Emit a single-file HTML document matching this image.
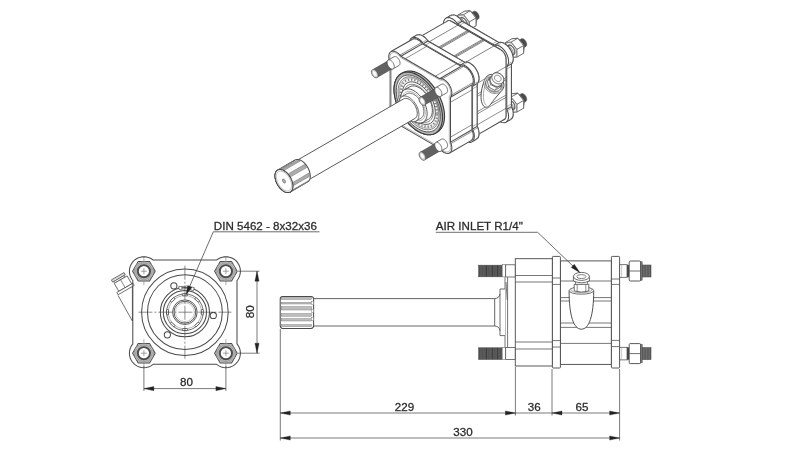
<!DOCTYPE html>
<html><head><meta charset="utf-8"><title>drawing</title>
<style>
html,body{margin:0;padding:0;background:#fff;}
body{width:800px;height:450px;overflow:hidden;font-family:"Liberation Sans",sans-serif;}
svg{display:block;}
text{font-family:"Liberation Sans",sans-serif;}
</style></head><body>
<svg width="800" height="450" viewBox="0 0 800 450">
<defs><filter id="soft" x="0" y="0" width="800" height="450" filterUnits="userSpaceOnUse"><feGaussianBlur stdDeviation="0.55"/></filter>
<filter id="soft2" x="0" y="0" width="800" height="450" filterUnits="userSpaceOnUse"><feGaussianBlur stdDeviation="0.45"/></filter></defs>
<rect x="0" y="0" width="800" height="450" fill="#ffffff"/>
<g filter="url(#soft)">
<path d="M152.42,364.93 L150.48,366.12 L148.38,366.99 L146.17,367.52 L143.9,367.7 L141.63,367.52 L139.42,366.99 L137.32,366.12 L135.38,364.93 L133.65,363.45 L132.17,361.72 L130.98,359.78 L130.11,357.68 L129.58,355.47 L129.4,353.2 L129.58,350.93 L130.11,348.72 L130.98,346.62 L132.17,344.68 L132.8,343.94 L132.8,280.46 L132.17,279.72 L130.98,277.78 L130.11,275.68 L129.58,273.47 L129.4,271.2 L129.58,268.93 L130.11,266.72 L130.98,264.62 L132.17,262.68 L133.65,260.95 L135.38,259.47 L137.32,258.28 L139.42,257.41 L141.63,256.88 L143.9,256.7 L146.17,256.88 L148.38,257.41 L150.48,258.28 L152.42,259.47 L153.16,260.1 L216.64,260.1 L217.38,259.47 L219.32,258.28 L221.42,257.41 L223.63,256.88 L225.9,256.7 L228.17,256.88 L230.38,257.41 L232.48,258.28 L234.42,259.47 L236.15,260.95 L237.63,262.68 L238.82,264.62 L239.69,266.72 L240.22,268.93 L240.4,271.2 L240.22,273.47 L239.69,275.68 L238.82,277.78 L237.63,279.72 L237,280.46 L237,343.94 L237.63,344.68 L238.82,346.62 L239.69,348.72 L240.22,350.93 L240.4,353.2 L240.22,355.47 L239.69,357.68 L238.82,359.78 L237.63,361.72 L236.15,363.45 L234.42,364.93 L232.48,366.12 L230.38,366.99 L228.17,367.52 L225.9,367.7 L223.63,367.52 L221.42,366.99 L219.32,366.12 L217.38,364.93 L216.64,364.3 L153.16,364.3 Z" fill="#fff" stroke="#4a4a4a" stroke-width="1.03" stroke-linejoin="round" />
<circle cx="184.9" cy="312.2" r="43.3" fill="none" stroke="#4a4a4a" stroke-width="1.03"/>
<circle cx="184.9" cy="312.2" r="37.4" fill="none" stroke="#4a4a4a" stroke-width="1.03"/>
<circle cx="184.9" cy="312.2" r="24.6" fill="none" stroke="#4a4a4a" stroke-width="1.03"/>
<circle cx="184.9" cy="312.2" r="21.6" fill="none" stroke="#4a4a4a" stroke-width="1.03"/>
<circle cx="184.9" cy="312.2" r="18.3" fill="none" stroke="#4a4a4a" stroke-width="0.8"/>
<circle cx="184.9" cy="312.2" r="16.6" fill="none" stroke="#7e7e7e" stroke-width="0.57"/>
<rect x="201.3" y="309.5" width="2.0" height="5.4" rx="0.9" fill="#fff" stroke="#3d3d3d" stroke-width="0.8" transform="rotate(0 202.3 312.2)"/>
<rect x="196.2" y="321.8" width="2.0" height="5.4" rx="0.9" fill="#fff" stroke="#3d3d3d" stroke-width="0.8" transform="rotate(45 197.2 324.5)"/>
<rect x="183.9" y="326.9" width="2.0" height="5.4" rx="0.9" fill="#fff" stroke="#3d3d3d" stroke-width="0.8" transform="rotate(90 184.9 329.6)"/>
<rect x="171.6" y="321.8" width="2.0" height="5.4" rx="0.9" fill="#fff" stroke="#3d3d3d" stroke-width="0.8" transform="rotate(135 172.6 324.5)"/>
<rect x="166.5" y="309.5" width="2.0" height="5.4" rx="0.9" fill="#fff" stroke="#3d3d3d" stroke-width="0.8" transform="rotate(180 167.5 312.2)"/>
<rect x="171.6" y="297.2" width="2.0" height="5.4" rx="0.9" fill="#fff" stroke="#3d3d3d" stroke-width="0.8" transform="rotate(225 172.6 299.9)"/>
<rect x="183.9" y="292.1" width="2.0" height="5.4" rx="0.9" fill="#fff" stroke="#3d3d3d" stroke-width="0.8" transform="rotate(270 184.9 294.8)"/>
<rect x="196.2" y="297.2" width="2.0" height="5.4" rx="0.9" fill="#fff" stroke="#3d3d3d" stroke-width="0.8" transform="rotate(315 197.2 299.9)"/>
<circle cx="184.9" cy="312.2" r="12.3" fill="none" stroke="#4a4a4a" stroke-width="0.92"/>
<circle cx="184.9" cy="312.2" r="10.9" fill="none" stroke="#4a4a4a" stroke-width="0.92"/>
<circle cx="184.9" cy="312.2" r="9.4" fill="none" stroke="#8e8e8e" stroke-width="0.46"/>
<circle cx="173.86" cy="285.82" r="3.1" fill="#fff" stroke="#4a4a4a" stroke-width="1.03"/>
<circle cx="213.31" cy="315.49" r="3.1" fill="#fff" stroke="#4a4a4a" stroke-width="1.03"/>
<circle cx="167.37" cy="334.8" r="3.1" fill="#fff" stroke="#4a4a4a" stroke-width="1.03"/>
<path d="M177.9,287 A26.5 26.5 0 0 1 194.9,288" fill="none" stroke="#4a4a4a" stroke-width="0.69" stroke-linejoin="round" />
<path d="M178.9,289.4 A23.5 23.5 0 0 1 193.9,290.4" fill="none" stroke="#4a4a4a" stroke-width="0.69" stroke-linejoin="round" />
<circle cx="180.4" cy="288" r="1.6" fill="#fff" stroke="#4a4a4a" stroke-width="0.57"/>
<circle cx="192.4" cy="288.8" r="1.6" fill="#fff" stroke="#4a4a4a" stroke-width="0.57"/>
<line x1="138.4" y1="312.2" x2="231.4" y2="312.2" stroke="#4a4a4a" stroke-width="0.63" stroke-dasharray="14 2 2 2"/>
<line x1="184.9" y1="265.7" x2="184.9" y2="358.7" stroke="#4a4a4a" stroke-width="0.63" stroke-dasharray="14 2 2 2"/>
<path d="M155.2,271.2 L149.55,280.99 L138.25,280.99 L132.6,271.2 L138.25,261.41 L149.55,261.41 Z" fill="#e4e4e4" stroke="#4a4a4a" stroke-width="1.03" stroke-linejoin="round" />
<circle cx="143.9" cy="271.2" r="9.7" fill="#cfcfcf" stroke="#6e6e6e" stroke-width="0.57"/>
<circle cx="143.9" cy="271.2" r="8.4" fill="#b9b9b9" stroke="#7e7e7e" stroke-width="0.57"/>
<circle cx="143.9" cy="271.2" r="6.1" fill="#fff" stroke="#4d4d4d" stroke-width="1.95"/>
<line x1="140.9" y1="271.2" x2="146.9" y2="271.2" stroke="#6e6e6e" stroke-width="0.63" />
<line x1="143.9" y1="268.2" x2="143.9" y2="274.2" stroke="#6e6e6e" stroke-width="0.63" />
<line x1="143.9" y1="257.2" x2="143.9" y2="262.2" stroke="#6e6e6e" stroke-width="0.57" />
<line x1="143.9" y1="280.2" x2="143.9" y2="285.2" stroke="#6e6e6e" stroke-width="0.57" />
<path d="M155.2,353.2 L149.55,362.99 L138.25,362.99 L132.6,353.2 L138.25,343.41 L149.55,343.41 Z" fill="#e4e4e4" stroke="#4a4a4a" stroke-width="1.03" stroke-linejoin="round" />
<circle cx="143.9" cy="353.2" r="9.7" fill="#cfcfcf" stroke="#6e6e6e" stroke-width="0.57"/>
<circle cx="143.9" cy="353.2" r="8.4" fill="#b9b9b9" stroke="#7e7e7e" stroke-width="0.57"/>
<circle cx="143.9" cy="353.2" r="6.1" fill="#fff" stroke="#4d4d4d" stroke-width="1.95"/>
<line x1="140.9" y1="353.2" x2="146.9" y2="353.2" stroke="#6e6e6e" stroke-width="0.63" />
<line x1="143.9" y1="350.2" x2="143.9" y2="356.2" stroke="#6e6e6e" stroke-width="0.63" />
<line x1="143.9" y1="339.2" x2="143.9" y2="344.2" stroke="#6e6e6e" stroke-width="0.57" />
<line x1="143.9" y1="362.2" x2="143.9" y2="367.2" stroke="#6e6e6e" stroke-width="0.57" />
<path d="M237.2,271.2 L231.55,280.99 L220.25,280.99 L214.6,271.2 L220.25,261.41 L231.55,261.41 Z" fill="#e4e4e4" stroke="#4a4a4a" stroke-width="1.03" stroke-linejoin="round" />
<circle cx="225.9" cy="271.2" r="9.7" fill="#cfcfcf" stroke="#6e6e6e" stroke-width="0.57"/>
<circle cx="225.9" cy="271.2" r="8.4" fill="#b9b9b9" stroke="#7e7e7e" stroke-width="0.57"/>
<circle cx="225.9" cy="271.2" r="6.1" fill="#fff" stroke="#4d4d4d" stroke-width="1.95"/>
<line x1="222.9" y1="271.2" x2="228.9" y2="271.2" stroke="#6e6e6e" stroke-width="0.63" />
<line x1="225.9" y1="268.2" x2="225.9" y2="274.2" stroke="#6e6e6e" stroke-width="0.63" />
<line x1="225.9" y1="257.2" x2="225.9" y2="262.2" stroke="#6e6e6e" stroke-width="0.57" />
<line x1="225.9" y1="280.2" x2="225.9" y2="285.2" stroke="#6e6e6e" stroke-width="0.57" />
<path d="M237.2,353.2 L231.55,362.99 L220.25,362.99 L214.6,353.2 L220.25,343.41 L231.55,343.41 Z" fill="#e4e4e4" stroke="#4a4a4a" stroke-width="1.03" stroke-linejoin="round" />
<circle cx="225.9" cy="353.2" r="9.7" fill="#cfcfcf" stroke="#6e6e6e" stroke-width="0.57"/>
<circle cx="225.9" cy="353.2" r="8.4" fill="#b9b9b9" stroke="#7e7e7e" stroke-width="0.57"/>
<circle cx="225.9" cy="353.2" r="6.1" fill="#fff" stroke="#4d4d4d" stroke-width="1.95"/>
<line x1="222.9" y1="353.2" x2="228.9" y2="353.2" stroke="#6e6e6e" stroke-width="0.63" />
<line x1="225.9" y1="350.2" x2="225.9" y2="356.2" stroke="#6e6e6e" stroke-width="0.63" />
<line x1="225.9" y1="339.2" x2="225.9" y2="344.2" stroke="#6e6e6e" stroke-width="0.57" />
<line x1="225.9" y1="362.2" x2="225.9" y2="367.2" stroke="#6e6e6e" stroke-width="0.57" />
<path d="M111.4,279.9 L124.04,272.6 L125.34,274.85 L112.7,282.15 Z" fill="#ddd" stroke="#4a4a4a" stroke-width="0.8" stroke-linejoin="round" />
<path d="M114.09,281.35 L123.96,275.65 L124.86,277.21 L114.99,282.91 Z" fill="#fff" stroke="#4a4a4a" stroke-width="0.69" stroke-linejoin="round" />
<path d="M114.21,283.36 L127.11,275.91 L131.71,283.88 L118.81,291.33 Z" fill="#fff" stroke="#4a4a4a" stroke-width="0.8" stroke-linejoin="round" />
<line x1="120.53" y1="279.71" x2="125.13" y2="287.68" stroke="#4a4a4a" stroke-width="0.69" />
<path d="M116.81,292.48 L132.92,283.18 L134.22,285.43 L118.11,294.73 Z" fill="#fff" stroke="#4a4a4a" stroke-width="0.8" stroke-linejoin="round" />
<path d="M118.07,295.45 L132.4,321 M132.4,283 L132.4,321" fill="none" stroke="#4a4a4a" stroke-width="0.8" stroke-linejoin="round" />
<line x1="238" y1="271.2" x2="259.5" y2="271.2" stroke="#3d3d3d" stroke-width="0.69" />
<line x1="238" y1="353.2" x2="259.5" y2="353.2" stroke="#3d3d3d" stroke-width="0.69" />
<line x1="257" y1="271.2" x2="257" y2="353.2" stroke="#3d3d3d" stroke-width="0.69" />
<line x1="143.9" y1="366" x2="143.9" y2="391" stroke="#3d3d3d" stroke-width="0.69" />
<line x1="225.9" y1="366" x2="225.9" y2="391" stroke="#3d3d3d" stroke-width="0.69" />
<line x1="143.9" y1="388.6" x2="225.9" y2="388.6" stroke="#3d3d3d" stroke-width="0.69" />
<path d="M319.5,231.8 L213.3,231.8 L186.6,293.5" fill="none" stroke="#3d3d3d" stroke-width="0.75" stroke-linejoin="round" />
<line x1="280.3" y1="329" x2="280.3" y2="440.5" stroke="#3d3d3d" stroke-width="0.69" />
<line x1="515.4" y1="367" x2="515.4" y2="415.5" stroke="#3d3d3d" stroke-width="0.69" />
<line x1="552" y1="369" x2="552" y2="415.5" stroke="#3d3d3d" stroke-width="0.69" />
<line x1="619.6" y1="369" x2="619.6" y2="440.5" stroke="#3d3d3d" stroke-width="0.69" />
<line x1="280.3" y1="413" x2="619.6" y2="413" stroke="#3d3d3d" stroke-width="0.69" />
<line x1="280.3" y1="438" x2="619.6" y2="438" stroke="#3d3d3d" stroke-width="0.69" />
<rect x="478.7" y="265.2" width="23.5" height="11.6" rx="0" fill="#4a4a4a" stroke="#4a4a4a" stroke-width="0.57"/>
<line x1="480.2" y1="265.4" x2="480.2" y2="276.6" stroke="#7e7e7e" stroke-width="0.4" />
<line x1="481.7" y1="265.4" x2="481.7" y2="276.6" stroke="#7e7e7e" stroke-width="0.4" />
<line x1="483.2" y1="265.4" x2="483.2" y2="276.6" stroke="#7e7e7e" stroke-width="0.4" />
<line x1="484.7" y1="265.4" x2="484.7" y2="276.6" stroke="#7e7e7e" stroke-width="0.4" />
<line x1="486.2" y1="265.4" x2="486.2" y2="276.6" stroke="#7e7e7e" stroke-width="0.4" />
<line x1="487.7" y1="265.4" x2="487.7" y2="276.6" stroke="#7e7e7e" stroke-width="0.4" />
<line x1="489.2" y1="265.4" x2="489.2" y2="276.6" stroke="#7e7e7e" stroke-width="0.4" />
<line x1="490.7" y1="265.4" x2="490.7" y2="276.6" stroke="#7e7e7e" stroke-width="0.4" />
<line x1="492.2" y1="265.4" x2="492.2" y2="276.6" stroke="#7e7e7e" stroke-width="0.4" />
<line x1="493.7" y1="265.4" x2="493.7" y2="276.6" stroke="#7e7e7e" stroke-width="0.4" />
<line x1="495.2" y1="265.4" x2="495.2" y2="276.6" stroke="#7e7e7e" stroke-width="0.4" />
<line x1="496.7" y1="265.4" x2="496.7" y2="276.6" stroke="#7e7e7e" stroke-width="0.4" />
<line x1="498.2" y1="265.4" x2="498.2" y2="276.6" stroke="#7e7e7e" stroke-width="0.4" />
<line x1="499.7" y1="265.4" x2="499.7" y2="276.6" stroke="#7e7e7e" stroke-width="0.4" />
<line x1="501.2" y1="265.4" x2="501.2" y2="276.6" stroke="#7e7e7e" stroke-width="0.4" />
<line x1="486.5" y1="265.4" x2="486.5" y2="276.6" stroke="#353535" stroke-width="0.69" />
<line x1="492.5" y1="265.4" x2="492.5" y2="276.6" stroke="#353535" stroke-width="0.69" />
<line x1="497.6" y1="265.4" x2="497.6" y2="276.6" stroke="#353535" stroke-width="0.69" />
<rect x="502.2" y="264.7" width="3.5" height="12.2" rx="0" fill="#fff" stroke="#6e6e6e" stroke-width="0.57"/>
<rect x="505.7" y="264.8" width="9.6" height="12.2" rx="0" fill="#fff" stroke="#4a4a4a" stroke-width="0.75"/>
<rect x="619.6" y="264.7" width="7.6" height="12.6" rx="0" fill="#fff" stroke="#4a4a4a" stroke-width="0.75"/>
<line x1="621.6" y1="264.7" x2="621.6" y2="277.3" stroke="#8e8e8e" stroke-width="0.46" />
<rect x="627" y="265.1" width="2.2" height="11.8" rx="0" fill="#444" stroke="#4a4a4a" stroke-width="0.46"/>
<rect x="629.2" y="261" width="11.4" height="20" rx="1" fill="#fff" stroke="#4a4a4a" stroke-width="0.92"/>
<line x1="629.2" y1="271" x2="640.6" y2="271" stroke="#4a4a4a" stroke-width="0.8" />
<rect x="640.6" y="261.8" width="1.6" height="18.4" rx="0" fill="#777" stroke="#4a4a4a" stroke-width="0.46"/>
<rect x="642.2" y="265" width="8.8" height="12" rx="0" fill="#555" stroke="#4a4a4a" stroke-width="0.57"/>
<line x1="643.5" y1="265.2" x2="643.5" y2="276.8" stroke="#909090" stroke-width="0.4" />
<line x1="645" y1="265.2" x2="645" y2="276.8" stroke="#909090" stroke-width="0.4" />
<line x1="646.5" y1="265.2" x2="646.5" y2="276.8" stroke="#909090" stroke-width="0.4" />
<line x1="648" y1="265.2" x2="648" y2="276.8" stroke="#909090" stroke-width="0.4" />
<line x1="649.5" y1="265.2" x2="649.5" y2="276.8" stroke="#909090" stroke-width="0.4" />
<rect x="478.7" y="347.8" width="23.5" height="11.6" rx="0" fill="#4a4a4a" stroke="#4a4a4a" stroke-width="0.57"/>
<line x1="480.2" y1="348" x2="480.2" y2="359.2" stroke="#7e7e7e" stroke-width="0.4" />
<line x1="481.7" y1="348" x2="481.7" y2="359.2" stroke="#7e7e7e" stroke-width="0.4" />
<line x1="483.2" y1="348" x2="483.2" y2="359.2" stroke="#7e7e7e" stroke-width="0.4" />
<line x1="484.7" y1="348" x2="484.7" y2="359.2" stroke="#7e7e7e" stroke-width="0.4" />
<line x1="486.2" y1="348" x2="486.2" y2="359.2" stroke="#7e7e7e" stroke-width="0.4" />
<line x1="487.7" y1="348" x2="487.7" y2="359.2" stroke="#7e7e7e" stroke-width="0.4" />
<line x1="489.2" y1="348" x2="489.2" y2="359.2" stroke="#7e7e7e" stroke-width="0.4" />
<line x1="490.7" y1="348" x2="490.7" y2="359.2" stroke="#7e7e7e" stroke-width="0.4" />
<line x1="492.2" y1="348" x2="492.2" y2="359.2" stroke="#7e7e7e" stroke-width="0.4" />
<line x1="493.7" y1="348" x2="493.7" y2="359.2" stroke="#7e7e7e" stroke-width="0.4" />
<line x1="495.2" y1="348" x2="495.2" y2="359.2" stroke="#7e7e7e" stroke-width="0.4" />
<line x1="496.7" y1="348" x2="496.7" y2="359.2" stroke="#7e7e7e" stroke-width="0.4" />
<line x1="498.2" y1="348" x2="498.2" y2="359.2" stroke="#7e7e7e" stroke-width="0.4" />
<line x1="499.7" y1="348" x2="499.7" y2="359.2" stroke="#7e7e7e" stroke-width="0.4" />
<line x1="501.2" y1="348" x2="501.2" y2="359.2" stroke="#7e7e7e" stroke-width="0.4" />
<line x1="486.5" y1="348" x2="486.5" y2="359.2" stroke="#353535" stroke-width="0.69" />
<line x1="492.5" y1="348" x2="492.5" y2="359.2" stroke="#353535" stroke-width="0.69" />
<line x1="497.6" y1="348" x2="497.6" y2="359.2" stroke="#353535" stroke-width="0.69" />
<rect x="502.2" y="347.3" width="3.5" height="12.2" rx="0" fill="#fff" stroke="#6e6e6e" stroke-width="0.57"/>
<rect x="505.7" y="347.4" width="9.6" height="12.2" rx="0" fill="#fff" stroke="#4a4a4a" stroke-width="0.75"/>
<rect x="619.6" y="347.3" width="7.6" height="12.6" rx="0" fill="#fff" stroke="#4a4a4a" stroke-width="0.75"/>
<line x1="621.6" y1="347.3" x2="621.6" y2="359.9" stroke="#8e8e8e" stroke-width="0.46" />
<rect x="627" y="347.7" width="2.2" height="11.8" rx="0" fill="#444" stroke="#4a4a4a" stroke-width="0.46"/>
<rect x="629.2" y="343.6" width="11.4" height="20" rx="1" fill="#fff" stroke="#4a4a4a" stroke-width="0.92"/>
<line x1="629.2" y1="353.6" x2="640.6" y2="353.6" stroke="#4a4a4a" stroke-width="0.8" />
<rect x="640.6" y="344.4" width="1.6" height="18.4" rx="0" fill="#777" stroke="#4a4a4a" stroke-width="0.46"/>
<rect x="642.2" y="347.6" width="8.8" height="12" rx="0" fill="#555" stroke="#4a4a4a" stroke-width="0.57"/>
<line x1="643.5" y1="347.8" x2="643.5" y2="359.4" stroke="#909090" stroke-width="0.4" />
<line x1="645" y1="347.8" x2="645" y2="359.4" stroke="#909090" stroke-width="0.4" />
<line x1="646.5" y1="347.8" x2="646.5" y2="359.4" stroke="#909090" stroke-width="0.4" />
<line x1="648" y1="347.8" x2="648" y2="359.4" stroke="#909090" stroke-width="0.4" />
<line x1="649.5" y1="347.8" x2="649.5" y2="359.4" stroke="#909090" stroke-width="0.4" />
<rect x="515.3" y="258.7" width="37.1" height="107.3" rx="0" fill="#fff" stroke="#4a4a4a" stroke-width="0.92"/>
<line x1="515.3" y1="275.5" x2="552.4" y2="275.5" stroke="#4a4a4a" stroke-width="0.75" />
<line x1="515.3" y1="282" x2="552.4" y2="282" stroke="#4a4a4a" stroke-width="0.75" />
<line x1="515.3" y1="342" x2="552.4" y2="342" stroke="#4a4a4a" stroke-width="0.75" />
<line x1="515.3" y1="349" x2="552.4" y2="349" stroke="#4a4a4a" stroke-width="0.75" />
<rect x="560.4" y="260.9" width="51" height="103.5" rx="0" fill="#fff" stroke="#4a4a4a" stroke-width="0.92"/>
<line x1="560.4" y1="281" x2="611.4" y2="281" stroke="#4a4a4a" stroke-width="0.75" />
<line x1="560.4" y1="297.6" x2="611.4" y2="297.6" stroke="#4a4a4a" stroke-width="0.75" />
<line x1="560.4" y1="301" x2="611.4" y2="301" stroke="#4a4a4a" stroke-width="0.75" />
<line x1="560.4" y1="323" x2="611.4" y2="323" stroke="#4a4a4a" stroke-width="0.75" />
<line x1="560.4" y1="327.4" x2="611.4" y2="327.4" stroke="#4a4a4a" stroke-width="0.75" />
<line x1="560.4" y1="343.4" x2="611.4" y2="343.4" stroke="#4a4a4a" stroke-width="0.75" />
<rect x="552.4" y="256.4" width="8" height="111.6" rx="0.8" fill="#fff" stroke="#4a4a4a" stroke-width="0.92"/>
<line x1="552.4" y1="278" x2="560.4" y2="278" stroke="#4a4a4a" stroke-width="0.75" />
<line x1="552.4" y1="284.4" x2="560.4" y2="284.4" stroke="#4a4a4a" stroke-width="0.75" />
<line x1="552.4" y1="340.6" x2="560.4" y2="340.6" stroke="#4a4a4a" stroke-width="0.75" />
<line x1="552.4" y1="347" x2="560.4" y2="347" stroke="#4a4a4a" stroke-width="0.75" />
<rect x="611.4" y="256.4" width="8.2" height="111.6" rx="0.8" fill="#fff" stroke="#4a4a4a" stroke-width="0.92"/>
<line x1="611.4" y1="279" x2="619.6" y2="279" stroke="#4a4a4a" stroke-width="0.75" />
<line x1="611.4" y1="284.4" x2="619.6" y2="284.4" stroke="#4a4a4a" stroke-width="0.75" />
<line x1="611.4" y1="340.4" x2="619.6" y2="340.4" stroke="#4a4a4a" stroke-width="0.75" />
<line x1="611.4" y1="346.6" x2="619.6" y2="346.6" stroke="#4a4a4a" stroke-width="0.75" />
<path d="M505,277.3 L505,347.3 M507.6,277.3 L507.6,347.3 M506,282 L507.2,300" fill="none" stroke="#4a4a4a" stroke-width="0.75" stroke-linejoin="round" />
<path d="M505,289 L500,289 L500,335.6 L505,335.6" fill="#fff" stroke="#4a4a4a" stroke-width="0.8" stroke-linejoin="round" />
<path d="M313.6,298.6 L494.7,298.6 Q499.4,298.2 500,294 M313.6,326 L494.7,326 Q499.4,326.4 500,330.6 M494.7,298.6 L494.7,326" fill="none" stroke="#4a4a4a" stroke-width="0.86" stroke-linejoin="round" />
<rect x="280.2" y="296.4" width="33.4" height="32" rx="2.6" fill="#fff" stroke="#4a4a4a" stroke-width="1.03"/>
<rect x="281.2" y="297.6" width="30.4" height="1.8" rx="0" fill="#bdbdbd" stroke="#6e6e6e" stroke-width="0.4"/>
<rect x="281.2" y="302.4" width="30.4" height="1.6" rx="0" fill="#bdbdbd" stroke="#6e6e6e" stroke-width="0.4"/>
<rect x="281.2" y="306.6" width="30.4" height="3.4" rx="0" fill="#bdbdbd" stroke="#6e6e6e" stroke-width="0.4"/>
<rect x="281.2" y="313.6" width="30.4" height="2.6" rx="0" fill="#bdbdbd" stroke="#6e6e6e" stroke-width="0.4"/>
<rect x="281.2" y="318.6" width="30.4" height="2.4" rx="0" fill="#bdbdbd" stroke="#6e6e6e" stroke-width="0.4"/>
<rect x="281.2" y="324.6" width="30.4" height="2" rx="0" fill="#bdbdbd" stroke="#6e6e6e" stroke-width="0.4"/>
<rect x="311.2" y="301.6" width="2.4" height="3" rx="0" fill="#fff" stroke="#6e6e6e" stroke-width="0.46"/>
<rect x="311.2" y="309.4" width="2.4" height="3" rx="0" fill="#fff" stroke="#6e6e6e" stroke-width="0.46"/>
<rect x="311.2" y="317.4" width="2.4" height="3" rx="0" fill="#fff" stroke="#6e6e6e" stroke-width="0.46"/>
<path d="M569.1,291 C569.1,316 573.8,329.2 581.4,329.2 C589,329.2 593.7,316 593.7,291 Z" fill="#fff" stroke="#4a4a4a" stroke-width="0.98" stroke-linejoin="round" />
<ellipse cx="581.4" cy="290.6" rx="12.3" ry="3.6" fill="#fff" stroke="#4a4a4a" stroke-width="0.8"/>
<ellipse cx="581.4" cy="289.8" rx="10.6" ry="2.9" fill="#fff" stroke="#6e6e6e" stroke-width="0.57"/>
<path d="M574.2,284.2 L588.8,284.2 L588.8,291.0 Q581.4,293.2 574.2,291.0 Z" fill="#fff" stroke="#4a4a4a" stroke-width="0.8" stroke-linejoin="round" />
<line x1="577.2" y1="284.4" x2="577.2" y2="291.8" stroke="#4a4a4a" stroke-width="0.63" />
<line x1="585.8" y1="284.4" x2="585.8" y2="291.8" stroke="#4a4a4a" stroke-width="0.63" />
<rect x="575.4" y="281.6" width="12" height="2.6" rx="0" fill="#fff" stroke="#4a4a4a" stroke-width="0.63"/>
<path d="M573.4,276.4 L573.4,281 Q581.4,284.6 589.4,281 L589.4,276.4" fill="#fff" stroke="#4a4a4a" stroke-width="0.8" stroke-linejoin="round" />
<ellipse cx="581.4" cy="276.4" rx="8" ry="4" fill="#fff" stroke="#4a4a4a" stroke-width="0.8"/>
<ellipse cx="581.4" cy="276.6" rx="4.6" ry="2" fill="#fff" stroke="#4a4a4a" stroke-width="0.69"/>
<path d="M435.8,232.3 L537.6,232.3 L578.6,271.4" fill="none" stroke="#3d3d3d" stroke-width="0.75" stroke-linejoin="round" />
<path d="M467.98,14.71 L467.71,14.91 L467.49,15.17 L467.31,15.49 L467.17,15.87 L467.09,16.28 L467.07,16.74 L467.09,17.23 L467.17,17.74 L467.31,18.26 L467.49,18.79 L467.71,19.32 L467.98,19.83 L468.29,20.32 L468.63,20.78 L469,21.2 L469.39,21.58 L469.79,21.9 L470.2,22.17 L470.61,22.37 L471.01,22.51 L471.4,22.58 L471.77,22.59 L472.11,22.52 L472.42,22.39 L478.22,19.04 L478.49,18.84 L478.72,18.58 L478.9,18.26 L479.03,17.88 L479.11,17.47 L479.14,17.01 L479.11,16.52 L479.03,16.01 L478.9,15.49 L478.72,14.96 L478.49,14.43 L478.22,13.92 L477.91,13.43 L477.57,12.97 L477.2,12.55 L476.81,12.17 L476.41,11.85 L476,11.58 L475.59,11.38 L475.19,11.24 L474.8,11.17 L474.44,11.16 L474.1,11.23 L473.79,11.36 Z" fill="#4c4c4c" stroke="#4a4a4a" stroke-width="0.57" stroke-linejoin="round" />
<path d="M473.33,20.36 L473.31,19.87 L473.23,19.36 L473.1,18.84 L472.91,18.31 L472.69,17.78 L472.42,17.27 L472.11,16.78 L471.77,16.32 L471.4,15.9 L471.01,15.52 L470.61,15.2 L470.2,14.93 L469.79,14.73 L469.39,14.59 L469,14.52 L468.63,14.51 L468.29,14.58 L467.98,14.71 L467.71,14.91 L467.49,15.17 L467.31,15.49 L467.17,15.87 L467.09,16.28 L467.07,16.74 L467.09,17.23 L467.17,17.74 L467.31,18.26 L467.49,18.79 L467.71,19.32 L467.98,19.83 L468.29,20.32 L468.63,20.78 L469,21.2 L469.39,21.58 L469.79,21.9 L470.2,22.17 L470.61,22.37 L471.01,22.51 L471.4,22.58 L471.77,22.59 L472.11,22.52 L472.42,22.39 L472.69,22.19 L472.91,21.93 L473.1,21.61 L473.23,21.23 L473.31,20.82 Z" fill="#4c4c4c" stroke="#4a4a4a" stroke-width="0.57" stroke-linejoin="round" />
<path d="M465.93,12.49 L465.48,12.82 L465.1,13.26 L464.8,13.79 L464.58,14.41 L464.44,15.11 L464.4,15.87 L464.44,16.68 L464.58,17.53 L464.8,18.41 L465.1,19.29 L465.48,20.16 L465.93,21.02 L466.44,21.83 L467.01,22.6 L467.62,23.3 L468.27,23.93 L468.94,24.47 L469.62,24.91 L470.3,25.26 L470.97,25.49 L471.62,25.61 L472.23,25.61 L472.8,25.5 L473.31,25.28 L475.05,24.28 L475.5,23.94 L475.88,23.51 L476.19,22.97 L476.41,22.35 L476.54,21.66 L476.58,20.89 L476.54,20.08 L476.41,19.23 L476.19,18.36 L475.88,17.48 L475.5,16.6 L475.05,15.75 L474.54,14.93 L473.97,14.17 L473.36,13.46 L472.71,12.84 L472.04,12.3 L471.36,11.85 L470.68,11.51 L470.01,11.28 L469.36,11.16 L468.75,11.15 L468.18,11.26 L467.67,11.48 Z" fill="#777" stroke="#4a4a4a" stroke-width="0.57" stroke-linejoin="round" />
<path d="M474.84,21.9 L474.8,21.09 L474.66,20.24 L474.44,19.36 L474.14,18.48 L473.76,17.61 L473.31,16.75 L472.8,15.94 L472.23,15.17 L471.62,14.47 L470.97,13.84 L470.3,13.3 L469.62,12.85 L468.94,12.51 L468.27,12.28 L467.62,12.16 L467.01,12.16 L466.44,12.27 L465.93,12.49 L465.48,12.82 L465.1,13.26 L464.8,13.79 L464.58,14.41 L464.44,15.11 L464.4,15.87 L464.44,16.68 L464.58,17.53 L464.8,18.41 L465.1,19.29 L465.48,20.16 L465.93,21.02 L466.44,21.83 L467.01,22.6 L467.62,23.3 L468.27,23.93 L468.94,24.47 L469.62,24.91 L470.3,25.26 L470.97,25.49 L471.62,25.61 L472.23,25.61 L472.8,25.5 L473.31,25.28 L473.76,24.95 L474.14,24.51 L474.44,23.98 L474.66,23.36 L474.8,22.66 Z" fill="#777" stroke="#4a4a4a" stroke-width="0.57" stroke-linejoin="round" />
<path d="M476.03,18.03 L470.2,10.78 L464.37,11.3 L464.37,19.07 L470.2,26.32 L476.03,25.8 Z" fill="#fff" stroke="#4a4a4a" stroke-width="0.8" stroke-linejoin="round" />
<path d="M469.36,21.88 L463.53,14.63 L470.2,10.78 L476.03,18.03 Z" fill="#fff" stroke="#ffffff" stroke-width="0.57" stroke-linejoin="round" />
<path d="M463.53,14.63 L457.7,15.15 L464.37,11.3 L470.2,10.78 Z" fill="#fff" stroke="#ffffff" stroke-width="0.57" stroke-linejoin="round" />
<path d="M469.36,29.65 L469.36,21.88 L476.03,18.03 L476.03,25.8 Z" fill="#fff" stroke="#ffffff" stroke-width="0.57" stroke-linejoin="round" />
<line x1="476.03" y1="18.03" x2="470.2" y2="10.78" stroke="#4a4a4a" stroke-width="0.8" />
<line x1="470.2" y1="10.78" x2="464.37" y2="11.3" stroke="#4a4a4a" stroke-width="0.8" />
<line x1="476.03" y1="25.8" x2="476.03" y2="18.03" stroke="#4a4a4a" stroke-width="0.8" />
<line x1="469.36" y1="21.88" x2="476.03" y2="18.03" stroke="#4a4a4a" stroke-width="0.8" />
<line x1="463.53" y1="14.63" x2="470.2" y2="10.78" stroke="#4a4a4a" stroke-width="0.8" />
<line x1="457.7" y1="15.15" x2="464.37" y2="11.3" stroke="#4a4a4a" stroke-width="0.8" />
<line x1="469.36" y1="29.65" x2="476.03" y2="25.8" stroke="#4a4a4a" stroke-width="0.8" />
<path d="M469.36,21.88 L463.53,14.63 L457.7,15.15 L457.7,22.92 L463.53,30.17 L469.36,29.65 Z" fill="#fff" stroke="#4a4a4a" stroke-width="0.8" stroke-linejoin="round" />
<path d="M469.1,25.62 L469.05,24.75 L468.91,23.84 L468.67,22.91 L468.35,21.97 L467.95,21.04 L467.47,20.13 L466.92,19.26 L466.31,18.44 L465.66,17.69 L464.97,17.02 L464.25,16.45 L463.53,15.97 L462.8,15.61 L462.09,15.36 L461.4,15.23 L460.74,15.22 L460.14,15.34 L459.59,15.58 L459.11,15.94 L458.7,16.4 L458.38,16.97 L458.15,17.63 L458.01,18.37 L457.96,19.19 L458.01,20.05 L458.15,20.96 L458.38,21.89 L458.7,22.83 L459.11,23.77 L459.59,24.68 L460.14,25.55 L460.74,26.36 L461.4,27.11 L462.09,27.78 L462.8,28.36 L463.53,28.83 L464.25,29.2 L464.97,29.45 L465.66,29.58 L466.31,29.58 L466.92,29.46 L467.47,29.22 L467.95,28.87 L468.35,28.4 L468.67,27.84 L468.91,27.17 L469.05,26.43 Z" fill="none" stroke="#6e6e6e" stroke-width="0.52" stroke-linejoin="round" />
<path d="M467.59,24.75 L467.55,24.12 L467.45,23.45 L467.28,22.77 L467.05,22.09 L466.75,21.41 L466.4,20.74 L466,20.11 L465.56,19.51 L465.08,18.97 L464.58,18.48 L464.06,18.06 L463.53,17.71 L463,17.45 L462.48,17.27 L461.97,17.17 L461.5,17.17 L461.06,17.25 L460.66,17.43 L460.31,17.69 L460.01,18.03 L459.78,18.44 L459.6,18.92 L459.5,19.47 L459.47,20.06 L459.5,20.69 L459.6,21.35 L459.78,22.03 L460.01,22.72 L460.31,23.4 L460.66,24.06 L461.06,24.7 L461.5,25.29 L461.97,25.84 L462.48,26.33 L463,26.75 L463.53,27.09 L464.06,27.36 L464.58,27.54 L465.08,27.63 L465.56,27.64 L466,27.55 L466.4,27.38 L466.75,27.12 L467.05,26.78 L467.28,26.36 L467.45,25.88 L467.55,25.34 Z" fill="#666" stroke="#4d4d4d" stroke-width="0.57" stroke-linejoin="round" />
<path d="M454.48,22.13 L454.19,22.35 L453.94,22.63 L453.75,22.97 L453.6,23.37 L453.52,23.82 L453.49,24.31 L453.52,24.84 L453.6,25.38 L453.75,25.95 L453.94,26.52 L454.19,27.08 L454.48,27.63 L454.81,28.16 L455.17,28.65 L455.57,29.1 L455.98,29.51 L456.42,29.85 L456.85,30.14 L457.29,30.36 L457.73,30.51 L458.14,30.59 L458.54,30.59 L458.9,30.52 L459.23,30.38 L465.91,26.52 L466.2,26.31 L466.44,26.03 L466.64,25.68 L466.78,25.29 L466.86,24.84 L466.89,24.35 L466.86,23.82 L466.78,23.27 L466.64,22.71 L466.44,22.14 L466.2,21.58 L465.91,21.03 L465.58,20.5 L465.21,20.01 L464.82,19.56 L464.4,19.15 L463.97,18.8 L463.53,18.52 L463.09,18.3 L462.66,18.15 L462.24,18.07 L461.84,18.07 L461.48,18.14 L461.15,18.28 Z" fill="#fff" stroke="#4a4a4a" stroke-width="0.69" stroke-linejoin="round" />
<path d="M460.22,28.2 L460.19,27.67 L460.11,27.13 L459.96,26.56 L459.77,25.99 L459.52,25.43 L459.23,24.88 L458.9,24.35 L458.54,23.86 L458.14,23.41 L457.73,23 L457.29,22.66 L456.85,22.37 L456.42,22.15 L455.98,22 L455.57,21.92 L455.17,21.92 L454.81,21.99 L454.48,22.13 L454.19,22.35 L453.94,22.63 L453.75,22.97 L453.6,23.37 L453.52,23.82 L453.49,24.31 L453.52,24.84 L453.6,25.38 L453.75,25.95 L453.94,26.52 L454.19,27.08 L454.48,27.63 L454.81,28.16 L455.17,28.65 L455.57,29.1 L455.98,29.51 L456.42,29.85 L456.85,30.14 L457.29,30.36 L457.73,30.51 L458.14,30.59 L458.54,30.59 L458.9,30.52 L459.23,30.38 L459.52,30.16 L459.77,29.88 L459.96,29.54 L460.11,29.14 L460.19,28.69 Z" fill="#fff" stroke="#4a4a4a" stroke-width="0.69" stroke-linejoin="round" />
<path d="M456.8,19.46 L456.44,19.73 L456.14,20.08 L455.9,20.51 L455.72,21 L455.61,21.56 L455.58,22.17 L455.61,22.82 L455.72,23.5 L455.9,24.2 L456.14,24.9 L456.44,25.6 L456.8,26.29 L457.21,26.94 L457.67,27.55 L458.16,28.11 L458.67,28.62 L459.21,29.05 L459.76,29.4 L460.3,29.68 L460.84,29.86 L461.35,29.96 L461.84,29.96 L462.3,29.88 L462.71,29.7 L464.45,28.69 L464.81,28.43 L465.11,28.08 L465.36,27.65 L465.53,27.15 L465.64,26.6 L465.67,25.99 L465.64,25.34 L465.53,24.66 L465.36,23.96 L465.11,23.25 L464.81,22.55 L464.45,21.87 L464.04,21.22 L463.59,20.6 L463.1,20.04 L462.58,19.54 L462.04,19.11 L461.5,18.75 L460.95,18.48 L460.42,18.29 L459.9,18.2 L459.41,18.19 L458.95,18.28 L458.54,18.46 Z" fill="#ddd" stroke="#4a4a4a" stroke-width="0.57" stroke-linejoin="round" />
<path d="M463.93,26.99 L463.9,26.34 L463.79,25.66 L463.62,24.96 L463.37,24.26 L463.07,23.56 L462.71,22.87 L462.3,22.22 L461.84,21.61 L461.35,21.05 L460.84,20.54 L460.3,20.11 L459.76,19.76 L459.21,19.48 L458.67,19.3 L458.16,19.2 L457.67,19.2 L457.21,19.28 L456.8,19.46 L456.44,19.73 L456.14,20.08 L455.9,20.51 L455.72,21 L455.61,21.56 L455.58,22.17 L455.61,22.82 L455.72,23.5 L455.9,24.2 L456.14,24.9 L456.44,25.6 L456.8,26.29 L457.21,26.94 L457.67,27.55 L458.16,28.11 L458.67,28.62 L459.21,29.05 L459.76,29.4 L460.3,29.68 L460.84,29.86 L461.35,29.96 L461.84,29.96 L462.3,29.88 L462.71,29.7 L463.07,29.43 L463.37,29.08 L463.62,28.65 L463.79,28.16 L463.9,27.6 Z" fill="#ddd" stroke="#4a4a4a" stroke-width="0.57" stroke-linejoin="round" />
<path d="M515.56,42.18 L515.29,42.38 L515.07,42.64 L514.89,42.96 L514.75,43.34 L514.67,43.75 L514.65,44.21 L514.67,44.7 L514.75,45.21 L514.89,45.73 L515.07,46.26 L515.29,46.79 L515.56,47.3 L515.87,47.79 L516.21,48.25 L516.58,48.67 L516.97,49.05 L517.37,49.37 L517.78,49.64 L518.19,49.84 L518.59,49.98 L518.98,50.05 L519.35,50.06 L519.69,49.99 L520,49.86 L525.8,46.51 L526.07,46.31 L526.3,46.05 L526.48,45.73 L526.61,45.35 L526.69,44.94 L526.72,44.48 L526.69,43.99 L526.61,43.48 L526.48,42.96 L526.3,42.43 L526.07,41.9 L525.8,41.39 L525.49,40.9 L525.15,40.44 L524.78,40.02 L524.39,39.64 L523.99,39.32 L523.58,39.05 L523.17,38.85 L522.77,38.71 L522.38,38.64 L522.02,38.63 L521.67,38.7 L521.37,38.83 Z" fill="#4c4c4c" stroke="#4a4a4a" stroke-width="0.57" stroke-linejoin="round" />
<path d="M520.91,47.83 L520.89,47.34 L520.81,46.83 L520.67,46.31 L520.49,45.78 L520.27,45.25 L520,44.74 L519.69,44.25 L519.35,43.79 L518.98,43.37 L518.59,42.99 L518.19,42.67 L517.78,42.4 L517.37,42.2 L516.97,42.06 L516.58,41.99 L516.21,41.98 L515.87,42.05 L515.56,42.18 L515.29,42.38 L515.07,42.64 L514.89,42.96 L514.75,43.34 L514.67,43.75 L514.65,44.21 L514.67,44.7 L514.75,45.21 L514.89,45.73 L515.07,46.26 L515.29,46.79 L515.56,47.3 L515.87,47.79 L516.21,48.25 L516.58,48.67 L516.97,49.05 L517.37,49.37 L517.78,49.64 L518.19,49.84 L518.59,49.98 L518.98,50.05 L519.35,50.06 L519.69,49.99 L520,49.86 L520.27,49.66 L520.49,49.4 L520.67,49.08 L520.81,48.7 L520.89,48.29 Z" fill="#4c4c4c" stroke="#4a4a4a" stroke-width="0.57" stroke-linejoin="round" />
<path d="M513.51,39.96 L513.06,40.29 L512.68,40.73 L512.37,41.26 L512.16,41.88 L512.02,42.58 L511.98,43.34 L512.02,44.15 L512.16,45 L512.37,45.88 L512.68,46.76 L513.06,47.63 L513.51,48.49 L514.02,49.3 L514.59,50.07 L515.2,50.77 L515.85,51.4 L516.52,51.94 L517.2,52.38 L517.88,52.73 L518.55,52.96 L519.2,53.08 L519.81,53.08 L520.38,52.97 L520.89,52.75 L522.63,51.75 L523.08,51.41 L523.46,50.98 L523.76,50.44 L523.98,49.82 L524.12,49.13 L524.16,48.36 L524.12,47.55 L523.98,46.7 L523.76,45.83 L523.46,44.95 L523.08,44.07 L522.63,43.22 L522.12,42.4 L521.55,41.64 L520.94,40.93 L520.29,40.31 L519.62,39.77 L518.94,39.32 L518.26,38.98 L517.59,38.75 L516.94,38.63 L516.33,38.62 L515.76,38.73 L515.25,38.95 Z" fill="#777" stroke="#4a4a4a" stroke-width="0.57" stroke-linejoin="round" />
<path d="M522.42,49.37 L522.38,48.56 L522.24,47.71 L522.02,46.83 L521.72,45.95 L521.34,45.08 L520.89,44.22 L520.38,43.41 L519.81,42.64 L519.2,41.94 L518.55,41.31 L517.88,40.77 L517.2,40.32 L516.52,39.98 L515.85,39.75 L515.2,39.63 L514.59,39.63 L514.02,39.74 L513.51,39.96 L513.06,40.29 L512.68,40.73 L512.37,41.26 L512.16,41.88 L512.02,42.58 L511.98,43.34 L512.02,44.15 L512.16,45 L512.37,45.88 L512.68,46.76 L513.06,47.63 L513.51,48.49 L514.02,49.3 L514.59,50.07 L515.2,50.77 L515.85,51.4 L516.52,51.94 L517.2,52.38 L517.88,52.73 L518.55,52.96 L519.2,53.08 L519.81,53.08 L520.38,52.97 L520.89,52.75 L521.34,52.42 L521.72,51.98 L522.02,51.45 L522.24,50.83 L522.38,50.13 Z" fill="#777" stroke="#4a4a4a" stroke-width="0.57" stroke-linejoin="round" />
<path d="M523.61,45.5 L517.78,38.25 L511.95,38.77 L511.95,46.54 L517.78,53.79 L523.61,53.27 Z" fill="#fff" stroke="#4a4a4a" stroke-width="0.8" stroke-linejoin="round" />
<path d="M516.94,49.35 L511.11,42.1 L517.78,38.25 L523.61,45.5 Z" fill="#fff" stroke="#ffffff" stroke-width="0.57" stroke-linejoin="round" />
<path d="M511.11,42.1 L505.28,42.62 L511.95,38.77 L517.78,38.25 Z" fill="#fff" stroke="#ffffff" stroke-width="0.57" stroke-linejoin="round" />
<path d="M516.94,57.12 L516.94,49.35 L523.61,45.5 L523.61,53.27 Z" fill="#fff" stroke="#ffffff" stroke-width="0.57" stroke-linejoin="round" />
<line x1="523.61" y1="45.5" x2="517.78" y2="38.25" stroke="#4a4a4a" stroke-width="0.8" />
<line x1="517.78" y1="38.25" x2="511.95" y2="38.77" stroke="#4a4a4a" stroke-width="0.8" />
<line x1="523.61" y1="53.27" x2="523.61" y2="45.5" stroke="#4a4a4a" stroke-width="0.8" />
<line x1="516.94" y1="49.35" x2="523.61" y2="45.5" stroke="#4a4a4a" stroke-width="0.8" />
<line x1="511.11" y1="42.1" x2="517.78" y2="38.25" stroke="#4a4a4a" stroke-width="0.8" />
<line x1="505.28" y1="42.62" x2="511.95" y2="38.77" stroke="#4a4a4a" stroke-width="0.8" />
<line x1="516.94" y1="57.12" x2="523.61" y2="53.27" stroke="#4a4a4a" stroke-width="0.8" />
<path d="M516.94,49.35 L511.11,42.1 L505.28,42.62 L505.28,50.39 L511.11,57.64 L516.94,57.12 Z" fill="#fff" stroke="#4a4a4a" stroke-width="0.8" stroke-linejoin="round" />
<path d="M516.68,53.09 L516.63,52.22 L516.49,51.31 L516.25,50.38 L515.93,49.44 L515.53,48.51 L515.05,47.6 L514.5,46.73 L513.89,45.91 L513.24,45.16 L512.55,44.49 L511.83,43.92 L511.11,43.44 L510.38,43.08 L509.67,42.83 L508.98,42.7 L508.32,42.69 L507.72,42.81 L507.17,43.05 L506.69,43.41 L506.28,43.87 L505.96,44.44 L505.73,45.1 L505.58,45.84 L505.54,46.66 L505.58,47.52 L505.73,48.43 L505.96,49.36 L506.28,50.3 L506.69,51.24 L507.17,52.15 L507.72,53.02 L508.32,53.83 L508.98,54.58 L509.67,55.25 L510.38,55.83 L511.11,56.3 L511.83,56.67 L512.55,56.92 L513.24,57.05 L513.89,57.05 L514.5,56.93 L515.05,56.69 L515.53,56.34 L515.93,55.87 L516.25,55.31 L516.49,54.64 L516.63,53.9 Z" fill="none" stroke="#6e6e6e" stroke-width="0.52" stroke-linejoin="round" />
<path d="M515.17,52.22 L515.13,51.59 L515.03,50.92 L514.86,50.24 L514.62,49.56 L514.33,48.88 L513.98,48.21 L513.58,47.58 L513.14,46.98 L512.66,46.44 L512.16,45.95 L511.64,45.53 L511.11,45.18 L510.58,44.92 L510.06,44.74 L509.55,44.64 L509.08,44.64 L508.63,44.72 L508.24,44.9 L507.88,45.16 L507.59,45.5 L507.35,45.91 L507.18,46.39 L507.08,46.94 L507.05,47.53 L507.08,48.16 L507.18,48.82 L507.35,49.5 L507.59,50.19 L507.88,50.87 L508.24,51.53 L508.63,52.17 L509.08,52.76 L509.55,53.31 L510.06,53.8 L510.58,54.22 L511.11,54.56 L511.64,54.83 L512.16,55.01 L512.66,55.1 L513.14,55.11 L513.58,55.02 L513.98,54.85 L514.33,54.59 L514.62,54.25 L514.86,53.83 L515.03,53.35 L515.13,52.81 Z" fill="#666" stroke="#4d4d4d" stroke-width="0.57" stroke-linejoin="round" />
<path d="M502.05,49.6 L501.76,49.82 L501.52,50.1 L501.33,50.44 L501.18,50.84 L501.1,51.29 L501.07,51.78 L501.1,52.31 L501.18,52.85 L501.33,53.42 L501.52,53.99 L501.76,54.55 L502.05,55.1 L502.39,55.63 L502.75,56.12 L503.15,56.57 L503.56,56.98 L504,57.32 L504.43,57.61 L504.87,57.83 L505.31,57.98 L505.72,58.06 L506.12,58.06 L506.48,57.99 L506.81,57.85 L513.49,53.99 L513.78,53.78 L514.02,53.5 L514.22,53.15 L514.36,52.76 L514.44,52.31 L514.47,51.82 L514.44,51.29 L514.36,50.74 L514.22,50.18 L514.02,49.61 L513.78,49.05 L513.49,48.5 L513.16,47.97 L512.79,47.48 L512.39,47.03 L511.98,46.62 L511.55,46.27 L511.11,45.99 L510.67,45.77 L510.24,45.62 L509.82,45.54 L509.42,45.54 L509.06,45.61 L508.73,45.75 Z" fill="#fff" stroke="#4a4a4a" stroke-width="0.69" stroke-linejoin="round" />
<path d="M507.8,55.67 L507.77,55.14 L507.69,54.6 L507.54,54.03 L507.35,53.46 L507.1,52.9 L506.81,52.35 L506.48,51.82 L506.12,51.33 L505.72,50.88 L505.31,50.47 L504.87,50.13 L504.43,49.84 L504,49.62 L503.56,49.47 L503.15,49.39 L502.75,49.39 L502.39,49.46 L502.05,49.6 L501.76,49.82 L501.52,50.1 L501.33,50.44 L501.18,50.84 L501.1,51.29 L501.07,51.78 L501.1,52.31 L501.18,52.85 L501.33,53.42 L501.52,53.99 L501.76,54.55 L502.05,55.1 L502.39,55.63 L502.75,56.12 L503.15,56.57 L503.56,56.98 L504,57.32 L504.43,57.61 L504.87,57.83 L505.31,57.98 L505.72,58.06 L506.12,58.06 L506.48,57.99 L506.81,57.85 L507.1,57.63 L507.35,57.35 L507.54,57.01 L507.69,56.61 L507.77,56.16 Z" fill="#fff" stroke="#4a4a4a" stroke-width="0.69" stroke-linejoin="round" />
<path d="M504.38,46.93 L504.02,47.2 L503.72,47.55 L503.48,47.98 L503.3,48.47 L503.19,49.03 L503.16,49.64 L503.19,50.29 L503.3,50.97 L503.48,51.67 L503.72,52.37 L504.02,53.07 L504.38,53.76 L504.79,54.41 L505.25,55.02 L505.74,55.58 L506.25,56.09 L506.79,56.52 L507.34,56.87 L507.88,57.15 L508.42,57.33 L508.93,57.43 L509.42,57.43 L509.88,57.35 L510.29,57.17 L512.03,56.16 L512.39,55.9 L512.69,55.55 L512.94,55.12 L513.11,54.62 L513.22,54.07 L513.25,53.46 L513.22,52.81 L513.11,52.13 L512.94,51.43 L512.69,50.72 L512.39,50.02 L512.03,49.34 L511.62,48.69 L511.17,48.07 L510.68,47.51 L510.16,47.01 L509.62,46.58 L509.08,46.22 L508.53,45.95 L507.99,45.76 L507.48,45.67 L506.99,45.66 L506.53,45.75 L506.12,45.93 Z" fill="#ddd" stroke="#4a4a4a" stroke-width="0.57" stroke-linejoin="round" />
<path d="M511.51,54.46 L511.48,53.81 L511.37,53.13 L511.2,52.43 L510.95,51.73 L510.65,51.03 L510.29,50.34 L509.88,49.69 L509.42,49.08 L508.93,48.52 L508.42,48.01 L507.88,47.58 L507.34,47.23 L506.79,46.95 L506.25,46.77 L505.74,46.67 L505.25,46.67 L504.79,46.75 L504.38,46.93 L504.02,47.2 L503.72,47.55 L503.48,47.98 L503.3,48.47 L503.19,49.03 L503.16,49.64 L503.19,50.29 L503.3,50.97 L503.48,51.67 L503.72,52.37 L504.02,53.07 L504.38,53.76 L504.79,54.41 L505.25,55.02 L505.74,55.58 L506.25,56.09 L506.79,56.52 L507.34,56.87 L507.88,57.15 L508.42,57.33 L508.93,57.43 L509.42,57.43 L509.88,57.35 L510.29,57.17 L510.65,56.9 L510.95,56.55 L511.2,56.12 L511.37,55.63 L511.48,55.07 Z" fill="#ddd" stroke="#4a4a4a" stroke-width="0.57" stroke-linejoin="round" />
<path d="M515.56,97.12 L515.29,97.32 L515.07,97.58 L514.89,97.9 L514.75,98.28 L514.67,98.69 L514.65,99.15 L514.67,99.64 L514.75,100.15 L514.89,100.67 L515.07,101.2 L515.29,101.73 L515.56,102.24 L515.87,102.73 L516.21,103.19 L516.58,103.61 L516.97,103.99 L517.37,104.31 L517.78,104.58 L518.19,104.78 L518.59,104.92 L518.98,104.99 L519.35,105 L519.69,104.93 L520,104.8 L525.8,101.45 L526.07,101.25 L526.3,100.99 L526.48,100.67 L526.61,100.29 L526.69,99.88 L526.72,99.42 L526.69,98.93 L526.61,98.42 L526.48,97.9 L526.3,97.37 L526.07,96.84 L525.8,96.33 L525.49,95.84 L525.15,95.38 L524.78,94.96 L524.39,94.58 L523.99,94.26 L523.58,93.99 L523.17,93.79 L522.77,93.65 L522.38,93.58 L522.02,93.57 L521.67,93.64 L521.37,93.77 Z" fill="#4c4c4c" stroke="#4a4a4a" stroke-width="0.57" stroke-linejoin="round" />
<path d="M520.91,102.77 L520.89,102.28 L520.81,101.77 L520.67,101.25 L520.49,100.72 L520.27,100.19 L520,99.68 L519.69,99.19 L519.35,98.73 L518.98,98.31 L518.59,97.93 L518.19,97.61 L517.78,97.34 L517.37,97.14 L516.97,97 L516.58,96.93 L516.21,96.92 L515.87,96.99 L515.56,97.12 L515.29,97.32 L515.07,97.58 L514.89,97.9 L514.75,98.28 L514.67,98.69 L514.65,99.15 L514.67,99.64 L514.75,100.15 L514.89,100.67 L515.07,101.2 L515.29,101.73 L515.56,102.24 L515.87,102.73 L516.21,103.19 L516.58,103.61 L516.97,103.99 L517.37,104.31 L517.78,104.58 L518.19,104.78 L518.59,104.92 L518.98,104.99 L519.35,105 L519.69,104.93 L520,104.8 L520.27,104.6 L520.49,104.34 L520.67,104.02 L520.81,103.64 L520.89,103.23 Z" fill="#4c4c4c" stroke="#4a4a4a" stroke-width="0.57" stroke-linejoin="round" />
<path d="M513.51,94.9 L513.06,95.23 L512.68,95.67 L512.37,96.2 L512.16,96.82 L512.02,97.52 L511.98,98.28 L512.02,99.09 L512.16,99.94 L512.37,100.82 L512.68,101.7 L513.06,102.57 L513.51,103.43 L514.02,104.24 L514.59,105.01 L515.2,105.71 L515.85,106.34 L516.52,106.88 L517.2,107.33 L517.88,107.67 L518.55,107.9 L519.2,108.02 L519.81,108.02 L520.38,107.91 L520.89,107.69 L522.63,106.69 L523.08,106.35 L523.46,105.92 L523.76,105.38 L523.98,104.76 L524.12,104.07 L524.16,103.3 L524.12,102.49 L523.98,101.64 L523.76,100.77 L523.46,99.89 L523.08,99.01 L522.63,98.16 L522.12,97.34 L521.55,96.58 L520.94,95.87 L520.29,95.25 L519.62,94.71 L518.94,94.26 L518.26,93.92 L517.59,93.69 L516.94,93.57 L516.33,93.56 L515.76,93.67 L515.25,93.89 Z" fill="#777" stroke="#4a4a4a" stroke-width="0.57" stroke-linejoin="round" />
<path d="M522.42,104.31 L522.38,103.5 L522.24,102.65 L522.02,101.77 L521.72,100.89 L521.34,100.02 L520.89,99.16 L520.38,98.35 L519.81,97.58 L519.2,96.88 L518.55,96.25 L517.88,95.71 L517.2,95.27 L516.52,94.92 L515.85,94.69 L515.2,94.57 L514.59,94.57 L514.02,94.68 L513.51,94.9 L513.06,95.23 L512.68,95.67 L512.37,96.2 L512.16,96.82 L512.02,97.52 L511.98,98.28 L512.02,99.09 L512.16,99.94 L512.37,100.82 L512.68,101.7 L513.06,102.57 L513.51,103.43 L514.02,104.24 L514.59,105.01 L515.2,105.71 L515.85,106.34 L516.52,106.88 L517.2,107.33 L517.88,107.67 L518.55,107.9 L519.2,108.02 L519.81,108.02 L520.38,107.91 L520.89,107.69 L521.34,107.36 L521.72,106.92 L522.02,106.39 L522.24,105.77 L522.38,105.07 Z" fill="#777" stroke="#4a4a4a" stroke-width="0.57" stroke-linejoin="round" />
<path d="M523.61,100.44 L517.78,93.19 L511.95,93.71 L511.95,101.48 L517.78,108.73 L523.61,108.21 Z" fill="#fff" stroke="#4a4a4a" stroke-width="0.8" stroke-linejoin="round" />
<path d="M516.94,104.29 L511.11,97.04 L517.78,93.19 L523.61,100.44 Z" fill="#fff" stroke="#ffffff" stroke-width="0.57" stroke-linejoin="round" />
<path d="M511.11,97.04 L505.28,97.56 L511.95,93.71 L517.78,93.19 Z" fill="#fff" stroke="#ffffff" stroke-width="0.57" stroke-linejoin="round" />
<path d="M516.94,112.06 L516.94,104.29 L523.61,100.44 L523.61,108.21 Z" fill="#fff" stroke="#ffffff" stroke-width="0.57" stroke-linejoin="round" />
<line x1="523.61" y1="100.44" x2="517.78" y2="93.19" stroke="#4a4a4a" stroke-width="0.8" />
<line x1="517.78" y1="93.19" x2="511.95" y2="93.71" stroke="#4a4a4a" stroke-width="0.8" />
<line x1="523.61" y1="108.21" x2="523.61" y2="100.44" stroke="#4a4a4a" stroke-width="0.8" />
<line x1="516.94" y1="104.29" x2="523.61" y2="100.44" stroke="#4a4a4a" stroke-width="0.8" />
<line x1="511.11" y1="97.04" x2="517.78" y2="93.19" stroke="#4a4a4a" stroke-width="0.8" />
<line x1="505.28" y1="97.56" x2="511.95" y2="93.71" stroke="#4a4a4a" stroke-width="0.8" />
<line x1="516.94" y1="112.06" x2="523.61" y2="108.21" stroke="#4a4a4a" stroke-width="0.8" />
<path d="M516.94,104.29 L511.11,97.04 L505.28,97.56 L505.28,105.33 L511.11,112.58 L516.94,112.06 Z" fill="#fff" stroke="#4a4a4a" stroke-width="0.8" stroke-linejoin="round" />
<path d="M516.68,108.03 L516.63,107.16 L516.49,106.25 L516.25,105.32 L515.93,104.38 L515.53,103.45 L515.05,102.54 L514.5,101.67 L513.89,100.85 L513.24,100.1 L512.55,99.43 L511.83,98.86 L511.11,98.38 L510.38,98.02 L509.67,97.77 L508.98,97.64 L508.32,97.63 L507.72,97.75 L507.17,97.99 L506.69,98.35 L506.28,98.81 L505.96,99.38 L505.73,100.04 L505.58,100.78 L505.54,101.6 L505.58,102.46 L505.73,103.37 L505.96,104.3 L506.28,105.24 L506.69,106.18 L507.17,107.09 L507.72,107.96 L508.32,108.77 L508.98,109.52 L509.67,110.19 L510.38,110.77 L511.11,111.24 L511.83,111.61 L512.55,111.86 L513.24,111.99 L513.89,111.99 L514.5,111.87 L515.05,111.63 L515.53,111.28 L515.93,110.81 L516.25,110.25 L516.49,109.58 L516.63,108.84 Z" fill="none" stroke="#6e6e6e" stroke-width="0.52" stroke-linejoin="round" />
<path d="M515.17,107.16 L515.13,106.53 L515.03,105.86 L514.86,105.18 L514.62,104.5 L514.33,103.82 L513.98,103.15 L513.58,102.52 L513.14,101.92 L512.66,101.38 L512.16,100.89 L511.64,100.47 L511.11,100.12 L510.58,99.86 L510.06,99.68 L509.55,99.58 L509.08,99.58 L508.63,99.66 L508.24,99.84 L507.88,100.1 L507.59,100.44 L507.35,100.85 L507.18,101.33 L507.08,101.88 L507.05,102.47 L507.08,103.1 L507.18,103.76 L507.35,104.44 L507.59,105.13 L507.88,105.81 L508.24,106.47 L508.63,107.11 L509.08,107.7 L509.55,108.25 L510.06,108.74 L510.58,109.16 L511.11,109.5 L511.64,109.77 L512.16,109.95 L512.66,110.04 L513.14,110.05 L513.58,109.96 L513.98,109.79 L514.33,109.53 L514.62,109.19 L514.86,108.77 L515.03,108.29 L515.13,107.75 Z" fill="#666" stroke="#4d4d4d" stroke-width="0.57" stroke-linejoin="round" />
<path d="M502.05,104.54 L501.76,104.76 L501.52,105.04 L501.33,105.38 L501.18,105.78 L501.1,106.23 L501.07,106.72 L501.1,107.25 L501.18,107.79 L501.33,108.36 L501.52,108.93 L501.76,109.49 L502.05,110.04 L502.39,110.57 L502.75,111.06 L503.15,111.51 L503.56,111.92 L504,112.26 L504.43,112.55 L504.87,112.77 L505.31,112.92 L505.72,113 L506.12,113 L506.48,112.93 L506.81,112.79 L513.49,108.93 L513.78,108.72 L514.02,108.44 L514.22,108.09 L514.36,107.7 L514.44,107.25 L514.47,106.76 L514.44,106.23 L514.36,105.68 L514.22,105.12 L514.02,104.55 L513.78,103.99 L513.49,103.44 L513.16,102.91 L512.79,102.42 L512.39,101.97 L511.98,101.56 L511.55,101.21 L511.11,100.93 L510.67,100.71 L510.24,100.56 L509.82,100.48 L509.42,100.48 L509.06,100.55 L508.73,100.69 Z" fill="#fff" stroke="#4a4a4a" stroke-width="0.69" stroke-linejoin="round" />
<path d="M507.8,110.61 L507.77,110.08 L507.69,109.54 L507.54,108.97 L507.35,108.4 L507.1,107.84 L506.81,107.29 L506.48,106.76 L506.12,106.27 L505.72,105.82 L505.31,105.41 L504.87,105.07 L504.43,104.78 L504,104.56 L503.56,104.41 L503.15,104.33 L502.75,104.33 L502.39,104.4 L502.05,104.54 L501.76,104.76 L501.52,105.04 L501.33,105.38 L501.18,105.78 L501.1,106.23 L501.07,106.72 L501.1,107.25 L501.18,107.79 L501.33,108.36 L501.52,108.93 L501.76,109.49 L502.05,110.04 L502.39,110.57 L502.75,111.06 L503.15,111.51 L503.56,111.92 L504,112.26 L504.43,112.55 L504.87,112.77 L505.31,112.92 L505.72,113 L506.12,113 L506.48,112.93 L506.81,112.79 L507.1,112.57 L507.35,112.29 L507.54,111.95 L507.69,111.55 L507.77,111.1 Z" fill="#fff" stroke="#4a4a4a" stroke-width="0.69" stroke-linejoin="round" />
<path d="M504.38,101.87 L504.02,102.14 L503.72,102.49 L503.48,102.92 L503.3,103.41 L503.19,103.97 L503.16,104.58 L503.19,105.23 L503.3,105.91 L503.48,106.61 L503.72,107.31 L504.02,108.01 L504.38,108.7 L504.79,109.35 L505.25,109.96 L505.74,110.52 L506.25,111.03 L506.79,111.46 L507.34,111.81 L507.88,112.09 L508.42,112.27 L508.93,112.37 L509.42,112.37 L509.88,112.29 L510.29,112.11 L512.03,111.1 L512.39,110.84 L512.69,110.49 L512.94,110.06 L513.11,109.56 L513.22,109.01 L513.25,108.4 L513.22,107.75 L513.11,107.07 L512.94,106.37 L512.69,105.66 L512.39,104.96 L512.03,104.28 L511.62,103.63 L511.17,103.01 L510.68,102.45 L510.16,101.95 L509.62,101.52 L509.08,101.16 L508.53,100.89 L507.99,100.7 L507.48,100.61 L506.99,100.6 L506.53,100.69 L506.12,100.87 Z" fill="#ddd" stroke="#4a4a4a" stroke-width="0.57" stroke-linejoin="round" />
<path d="M511.51,109.4 L511.48,108.75 L511.37,108.07 L511.2,107.37 L510.95,106.67 L510.65,105.97 L510.29,105.28 L509.88,104.63 L509.42,104.02 L508.93,103.46 L508.42,102.95 L507.88,102.52 L507.34,102.17 L506.79,101.89 L506.25,101.71 L505.74,101.61 L505.25,101.61 L504.79,101.69 L504.38,101.87 L504.02,102.14 L503.72,102.49 L503.48,102.92 L503.3,103.41 L503.19,103.97 L503.16,104.58 L503.19,105.23 L503.3,105.91 L503.48,106.61 L503.72,107.31 L504.02,108.01 L504.38,108.7 L504.79,109.35 L505.25,109.96 L505.74,110.52 L506.25,111.03 L506.79,111.46 L507.34,111.81 L507.88,112.09 L508.42,112.27 L508.93,112.37 L509.42,112.37 L509.88,112.29 L510.29,112.11 L510.65,111.84 L510.95,111.49 L511.2,111.06 L511.37,110.57 L511.48,110.01 Z" fill="#ddd" stroke="#4a4a4a" stroke-width="0.57" stroke-linejoin="round" />
<path d="M461.26,92.56 L462.14,92.29 L499.14,113.65 L500.02,114.94 L502.15,117.18 L504.43,118.85 L506.72,119.82 L508.84,120.03 L510.67,119.47 L512.07,118.17 L512.95,116.22 L513.25,113.76 L512.95,110.95 L512.07,107.98 L511.4,106.58 L511.4,63.85 L512.07,63.23 L512.95,61.28 L513.25,58.82 L512.95,56.01 L512.07,53.04 L510.67,50.12 L508.84,47.45 L506.72,45.21 L504.43,43.54 L502.15,42.57 L500.02,42.36 L499.14,42.63 L462.14,21.27 L461.26,19.98 L459.14,17.74 L456.85,16.07 L454.57,15.1 L452.45,14.89 L450.62,15.45 L449.22,16.75 L448.34,18.7 L448.04,21.16 L448.34,23.97 L449.22,26.94 L449.89,28.34 L449.89,71.07 L449.22,71.69 L448.34,73.64 L448.04,76.1 L448.34,78.91 L449.22,81.88 L450.62,84.8 L452.45,87.47 L454.57,89.71 L456.85,91.38 L459.14,92.35 Z" fill="#fff" stroke="#4a4a4a" stroke-width="1.03" stroke-linejoin="round" />
<path d="M506.03,122.15 L507.43,120.85 L512.07,118.17 L510.67,119.47 Z" fill="#fff" stroke="#ffffff" stroke-width="0.57" stroke-linejoin="round" />
<path d="M507.43,120.85 L508.31,118.9 L512.95,116.22 L512.07,118.17 Z" fill="#fff" stroke="#ffffff" stroke-width="0.57" stroke-linejoin="round" />
<path d="M508.31,118.9 L508.61,116.44 L513.25,113.76 L512.95,116.22 Z" fill="#fff" stroke="#ffffff" stroke-width="0.57" stroke-linejoin="round" />
<path d="M508.61,116.44 L508.31,113.63 L512.95,110.95 L513.25,113.76 Z" fill="#fff" stroke="#ffffff" stroke-width="0.57" stroke-linejoin="round" />
<path d="M508.31,113.63 L507.43,110.66 L512.07,107.98 L512.95,110.95 Z" fill="#fff" stroke="#ffffff" stroke-width="0.57" stroke-linejoin="round" />
<path d="M507.43,110.66 L506.76,109.26 L511.4,106.58 L512.07,107.98 Z" fill="#fff" stroke="#ffffff" stroke-width="0.57" stroke-linejoin="round" />
<path d="M506.76,109.26 L506.76,66.53 L511.4,63.85 L511.4,106.58 Z" fill="#fff" stroke="#ffffff" stroke-width="0.57" stroke-linejoin="round" />
<path d="M506.76,66.53 L507.43,65.91 L512.07,63.23 L511.4,63.85 Z" fill="#fff" stroke="#ffffff" stroke-width="0.57" stroke-linejoin="round" />
<path d="M507.43,65.91 L508.31,63.96 L512.95,61.28 L512.07,63.23 Z" fill="#fff" stroke="#ffffff" stroke-width="0.57" stroke-linejoin="round" />
<path d="M508.31,63.96 L508.61,61.5 L513.25,58.82 L512.95,61.28 Z" fill="#fff" stroke="#ffffff" stroke-width="0.57" stroke-linejoin="round" />
<path d="M508.61,61.5 L508.31,58.69 L512.95,56.01 L513.25,58.82 Z" fill="#fff" stroke="#ffffff" stroke-width="0.57" stroke-linejoin="round" />
<path d="M508.31,58.69 L507.43,55.72 L512.07,53.04 L512.95,56.01 Z" fill="#fff" stroke="#ffffff" stroke-width="0.57" stroke-linejoin="round" />
<path d="M507.43,55.72 L506.03,52.8 L510.67,50.12 L512.07,53.04 Z" fill="#fff" stroke="#ffffff" stroke-width="0.57" stroke-linejoin="round" />
<path d="M506.03,52.8 L504.2,50.13 L508.84,47.45 L510.67,50.12 Z" fill="#fff" stroke="#ffffff" stroke-width="0.57" stroke-linejoin="round" />
<path d="M504.2,50.13 L502.08,47.89 L506.72,45.21 L508.84,47.45 Z" fill="#fff" stroke="#ffffff" stroke-width="0.57" stroke-linejoin="round" />
<path d="M502.08,47.89 L499.79,46.22 L504.43,43.54 L506.72,45.21 Z" fill="#fff" stroke="#ffffff" stroke-width="0.57" stroke-linejoin="round" />
<path d="M499.79,46.22 L497.51,45.25 L502.15,42.57 L504.43,43.54 Z" fill="#fff" stroke="#ffffff" stroke-width="0.57" stroke-linejoin="round" />
<path d="M497.51,45.25 L495.38,45.04 L500.02,42.36 L502.15,42.57 Z" fill="#fff" stroke="#ffffff" stroke-width="0.57" stroke-linejoin="round" />
<path d="M495.38,45.04 L494.5,45.31 L499.14,42.63 L500.02,42.36 Z" fill="#fff" stroke="#ffffff" stroke-width="0.57" stroke-linejoin="round" />
<path d="M494.5,45.31 L457.5,23.95 L462.14,21.27 L499.14,42.63 Z" fill="#fff" stroke="#ffffff" stroke-width="0.57" stroke-linejoin="round" />
<path d="M457.5,23.95 L456.62,22.66 L461.26,19.98 L462.14,21.27 Z" fill="#fff" stroke="#ffffff" stroke-width="0.57" stroke-linejoin="round" />
<path d="M456.62,22.66 L454.5,20.42 L459.14,17.74 L461.26,19.98 Z" fill="#fff" stroke="#ffffff" stroke-width="0.57" stroke-linejoin="round" />
<path d="M454.5,20.42 L452.21,18.75 L456.85,16.07 L459.14,17.74 Z" fill="#fff" stroke="#ffffff" stroke-width="0.57" stroke-linejoin="round" />
<path d="M452.21,18.75 L449.93,17.78 L454.57,15.1 L456.85,16.07 Z" fill="#fff" stroke="#ffffff" stroke-width="0.57" stroke-linejoin="round" />
<path d="M449.93,17.78 L447.8,17.57 L452.45,14.89 L454.57,15.1 Z" fill="#fff" stroke="#ffffff" stroke-width="0.57" stroke-linejoin="round" />
<path d="M447.8,17.57 L445.98,18.13 L450.62,15.45 L452.45,14.89 Z" fill="#fff" stroke="#ffffff" stroke-width="0.57" stroke-linejoin="round" />
<line x1="510.67" y1="119.47" x2="512.07" y2="118.17" stroke="#4a4a4a" stroke-width="1.03" />
<line x1="512.07" y1="118.17" x2="512.95" y2="116.22" stroke="#4a4a4a" stroke-width="1.03" />
<line x1="512.95" y1="116.22" x2="513.25" y2="113.76" stroke="#4a4a4a" stroke-width="1.03" />
<line x1="513.25" y1="113.76" x2="512.95" y2="110.95" stroke="#4a4a4a" stroke-width="1.03" />
<line x1="512.95" y1="110.95" x2="512.07" y2="107.98" stroke="#4a4a4a" stroke-width="1.03" />
<line x1="512.07" y1="107.98" x2="511.4" y2="106.58" stroke="#4a4a4a" stroke-width="1.03" />
<line x1="511.4" y1="106.58" x2="511.4" y2="63.85" stroke="#4a4a4a" stroke-width="1.03" />
<line x1="511.4" y1="63.85" x2="512.07" y2="63.23" stroke="#4a4a4a" stroke-width="1.03" />
<line x1="512.07" y1="63.23" x2="512.95" y2="61.28" stroke="#4a4a4a" stroke-width="1.03" />
<line x1="512.95" y1="61.28" x2="513.25" y2="58.82" stroke="#4a4a4a" stroke-width="1.03" />
<line x1="513.25" y1="58.82" x2="512.95" y2="56.01" stroke="#4a4a4a" stroke-width="1.03" />
<line x1="512.95" y1="56.01" x2="512.07" y2="53.04" stroke="#4a4a4a" stroke-width="1.03" />
<line x1="512.07" y1="53.04" x2="510.67" y2="50.12" stroke="#4a4a4a" stroke-width="1.03" />
<line x1="510.67" y1="50.12" x2="508.84" y2="47.45" stroke="#4a4a4a" stroke-width="1.03" />
<line x1="508.84" y1="47.45" x2="506.72" y2="45.21" stroke="#4a4a4a" stroke-width="1.03" />
<line x1="506.72" y1="45.21" x2="504.43" y2="43.54" stroke="#4a4a4a" stroke-width="1.03" />
<line x1="504.43" y1="43.54" x2="502.15" y2="42.57" stroke="#4a4a4a" stroke-width="1.03" />
<line x1="502.15" y1="42.57" x2="500.02" y2="42.36" stroke="#4a4a4a" stroke-width="1.03" />
<line x1="500.02" y1="42.36" x2="499.14" y2="42.63" stroke="#4a4a4a" stroke-width="1.03" />
<line x1="499.14" y1="42.63" x2="462.14" y2="21.27" stroke="#4a4a4a" stroke-width="1.03" />
<line x1="462.14" y1="21.27" x2="461.26" y2="19.98" stroke="#4a4a4a" stroke-width="1.03" />
<line x1="461.26" y1="19.98" x2="459.14" y2="17.74" stroke="#4a4a4a" stroke-width="1.03" />
<line x1="459.14" y1="17.74" x2="456.85" y2="16.07" stroke="#4a4a4a" stroke-width="1.03" />
<line x1="456.85" y1="16.07" x2="454.57" y2="15.1" stroke="#4a4a4a" stroke-width="1.03" />
<line x1="454.57" y1="15.1" x2="452.45" y2="14.89" stroke="#4a4a4a" stroke-width="1.03" />
<line x1="452.45" y1="14.89" x2="450.62" y2="15.45" stroke="#4a4a4a" stroke-width="1.03" />
<line x1="506.03" y1="122.15" x2="510.67" y2="119.47" stroke="#4a4a4a" stroke-width="1.03" />
<line x1="506.76" y1="109.26" x2="511.4" y2="106.58" stroke="#4a4a4a" stroke-width="1.03" />
<line x1="506.76" y1="66.53" x2="511.4" y2="63.85" stroke="#4a4a4a" stroke-width="1.03" />
<line x1="494.5" y1="45.31" x2="499.14" y2="42.63" stroke="#4a4a4a" stroke-width="1.03" />
<line x1="457.5" y1="23.95" x2="462.14" y2="21.27" stroke="#4a4a4a" stroke-width="1.03" />
<line x1="445.98" y1="18.13" x2="450.62" y2="15.45" stroke="#4a4a4a" stroke-width="1.03" />
<path d="M456.62,95.24 L457.5,94.97 L494.5,116.33 L495.38,117.62 L497.51,119.86 L499.79,121.53 L502.08,122.5 L504.2,122.71 L506.03,122.15 L507.43,120.85 L508.31,118.9 L508.61,116.44 L508.31,113.63 L507.43,110.66 L506.76,109.26 L506.76,66.53 L507.43,65.91 L508.31,63.96 L508.61,61.5 L508.31,58.69 L507.43,55.72 L506.03,52.8 L504.2,50.13 L502.08,47.89 L499.79,46.22 L497.51,45.25 L495.38,45.04 L494.5,45.31 L457.5,23.95 L456.62,22.66 L454.5,20.42 L452.21,18.75 L449.93,17.78 L447.8,17.57 L445.98,18.13 L444.58,19.43 L443.69,21.38 L443.39,23.84 L443.69,26.65 L444.58,29.62 L445.25,31.02 L445.25,73.75 L444.58,74.37 L443.69,76.32 L443.39,78.78 L443.69,81.59 L444.58,84.56 L445.98,87.48 L447.8,90.15 L449.93,92.39 L452.21,94.06 L454.5,95.03 Z" fill="#fff" stroke="#4a4a4a" stroke-width="1.03" stroke-linejoin="round" />
<line x1="455.98" y1="23.07" x2="460.63" y2="20.39" stroke="#5e5e5e" stroke-width="0.52" />
<line x1="506.76" y1="111.01" x2="511.4" y2="108.33" stroke="#5e5e5e" stroke-width="0.52" />
<line x1="459.76" y1="25.25" x2="464.4" y2="22.57" stroke="#5e5e5e" stroke-width="0.52" />
<line x1="506.76" y1="106.66" x2="511.4" y2="103.97" stroke="#5e5e5e" stroke-width="0.52" />
<line x1="492.25" y1="44.01" x2="496.89" y2="41.33" stroke="#5e5e5e" stroke-width="0.52" />
<line x1="506.76" y1="69.13" x2="511.4" y2="66.45" stroke="#5e5e5e" stroke-width="0.52" />
<line x1="496.02" y1="46.19" x2="500.66" y2="43.51" stroke="#5e5e5e" stroke-width="0.52" />
<line x1="506.76" y1="64.78" x2="511.4" y2="62.1" stroke="#5e5e5e" stroke-width="0.52" />
<path d="M506,116.07 L506,58.85 L505.75,56.84 L505,54.73 L503.85,52.73 L502.39,51.03 L500.78,49.81 L451.23,21.2 L449.61,20.56 L448.16,20.58 L447,21.24 L446.26,22.5 L446,24.21 L446,81.43 L446.26,83.44 L447,85.55 L448.16,87.55 L449.61,89.25 L451.23,90.47 L500.78,119.08 L502.39,119.72 L503.85,119.7 L505,119.04 L505.75,117.78 Z" fill="#fff" stroke="#4a4a4a" stroke-width="1.03" stroke-linejoin="round" />
<path d="M476.41,133.15 L476.41,75.94 L506,58.85 L506,116.07 Z" fill="#fff" stroke="#ffffff" stroke-width="0.57" stroke-linejoin="round" />
<path d="M476.41,75.94 L476.15,73.92 L505.75,56.84 L506,58.85 Z" fill="#fff" stroke="#ffffff" stroke-width="0.57" stroke-linejoin="round" />
<path d="M476.15,73.92 L475.41,71.82 L505,54.73 L505.75,56.84 Z" fill="#fff" stroke="#ffffff" stroke-width="0.57" stroke-linejoin="round" />
<path d="M475.41,71.82 L474.26,69.81 L503.85,52.73 L505,54.73 Z" fill="#fff" stroke="#ffffff" stroke-width="0.57" stroke-linejoin="round" />
<path d="M474.26,69.81 L472.8,68.12 L502.39,51.03 L503.85,52.73 Z" fill="#fff" stroke="#ffffff" stroke-width="0.57" stroke-linejoin="round" />
<path d="M472.8,68.12 L471.19,66.89 L500.78,49.81 L502.39,51.03 Z" fill="#fff" stroke="#ffffff" stroke-width="0.57" stroke-linejoin="round" />
<path d="M471.19,66.89 L421.63,38.28 L451.23,21.2 L500.78,49.81 Z" fill="#fff" stroke="#ffffff" stroke-width="0.57" stroke-linejoin="round" />
<path d="M421.63,38.28 L420.02,37.64 L449.61,20.56 L451.23,21.2 Z" fill="#fff" stroke="#ffffff" stroke-width="0.57" stroke-linejoin="round" />
<path d="M420.02,37.64 L418.57,37.66 L448.16,20.58 L449.61,20.56 Z" fill="#fff" stroke="#ffffff" stroke-width="0.57" stroke-linejoin="round" />
<path d="M475.41,136.12 L476.15,134.87 L505.75,117.78 L505,119.04 Z" fill="#fff" stroke="#ffffff" stroke-width="0.57" stroke-linejoin="round" />
<path d="M476.15,134.87 L476.41,133.15 L506,116.07 L505.75,117.78 Z" fill="#fff" stroke="#ffffff" stroke-width="0.57" stroke-linejoin="round" />
<line x1="506" y1="116.07" x2="506" y2="58.85" stroke="#4a4a4a" stroke-width="1.03" />
<line x1="506" y1="58.85" x2="505.75" y2="56.84" stroke="#4a4a4a" stroke-width="1.03" />
<line x1="505.75" y1="56.84" x2="505" y2="54.73" stroke="#4a4a4a" stroke-width="1.03" />
<line x1="505" y1="54.73" x2="503.85" y2="52.73" stroke="#4a4a4a" stroke-width="1.03" />
<line x1="503.85" y1="52.73" x2="502.39" y2="51.03" stroke="#4a4a4a" stroke-width="1.03" />
<line x1="502.39" y1="51.03" x2="500.78" y2="49.81" stroke="#4a4a4a" stroke-width="1.03" />
<line x1="500.78" y1="49.81" x2="451.23" y2="21.2" stroke="#4a4a4a" stroke-width="1.03" />
<line x1="451.23" y1="21.2" x2="449.61" y2="20.56" stroke="#4a4a4a" stroke-width="1.03" />
<line x1="449.61" y1="20.56" x2="448.16" y2="20.58" stroke="#4a4a4a" stroke-width="1.03" />
<line x1="505" y1="119.04" x2="505.75" y2="117.78" stroke="#4a4a4a" stroke-width="1.03" />
<line x1="505.75" y1="117.78" x2="506" y2="116.07" stroke="#4a4a4a" stroke-width="1.03" />
<line x1="418.57" y1="37.66" x2="448.16" y2="20.58" stroke="#4a4a4a" stroke-width="1.03" />
<line x1="475.41" y1="136.12" x2="505" y2="119.04" stroke="#4a4a4a" stroke-width="1.03" />
<path d="M476.41,133.15 L476.41,75.94 L476.15,73.92 L475.41,71.82 L474.26,69.81 L472.8,68.12 L471.19,66.89 L421.63,38.28 L420.02,37.64 L418.57,37.66 L417.41,38.33 L416.67,39.58 L416.41,41.3 L416.41,98.51 L416.67,100.53 L417.41,102.63 L418.57,104.64 L420.02,106.33 L421.63,107.56 L471.19,136.17 L472.8,136.81 L474.26,136.79 L475.41,136.12 L476.15,134.87 Z" fill="#fff" stroke="#4a4a4a" stroke-width="1.03" stroke-linejoin="round" />
<line x1="428.42" y1="42.2" x2="458.02" y2="25.12" stroke="#4a4a4a" stroke-width="0.69" />
<line x1="476.41" y1="83.77" x2="506" y2="66.69" stroke="#4a4a4a" stroke-width="0.63" />
<line x1="437.82" y1="47.63" x2="467.42" y2="30.54" stroke="#4a4a4a" stroke-width="0.69" />
<line x1="476.41" y1="94.63" x2="506" y2="77.54" stroke="#4a4a4a" stroke-width="0.63" />
<line x1="438.81" y1="48.2" x2="468.4" y2="31.11" stroke="#4a4a4a" stroke-width="0.69" />
<line x1="439.8" y1="48.77" x2="469.39" y2="31.68" stroke="#4a4a4a" stroke-width="0.69" />
<line x1="476.41" y1="96.91" x2="506" y2="79.82" stroke="#4a4a4a" stroke-width="0.63" />
<line x1="453.03" y1="56.4" x2="482.62" y2="39.32" stroke="#4a4a4a" stroke-width="0.69" />
<line x1="476.41" y1="112.18" x2="506" y2="95.1" stroke="#4a4a4a" stroke-width="0.63" />
<line x1="454.01" y1="56.97" x2="483.6" y2="39.89" stroke="#4a4a4a" stroke-width="0.69" />
<line x1="455" y1="57.54" x2="484.59" y2="40.46" stroke="#4a4a4a" stroke-width="0.69" />
<line x1="476.41" y1="114.46" x2="506" y2="97.38" stroke="#4a4a4a" stroke-width="0.63" />
<line x1="464.4" y1="62.97" x2="493.99" y2="45.89" stroke="#4a4a4a" stroke-width="0.69" />
<line x1="476.41" y1="125.31" x2="506" y2="108.23" stroke="#4a4a4a" stroke-width="0.63" />
<path d="M427.03,112.33 L427.91,112.05 L464.91,133.42 L465.79,134.7 L467.92,136.95 L470.2,138.61 L472.48,139.58 L474.61,139.8 L476.44,139.23 L477.84,137.93 L478.72,135.98 L479.02,133.52 L478.72,130.71 L477.84,127.75 L477.16,126.34 L477.16,83.62 L477.84,82.99 L478.72,81.04 L479.02,78.58 L478.72,75.77 L477.84,72.81 L476.44,69.89 L474.61,67.22 L472.48,64.97 L470.2,63.31 L467.92,62.34 L465.79,62.12 L464.91,62.4 L427.91,41.03 L427.03,39.75 L424.9,37.5 L422.62,35.84 L420.34,34.87 L418.21,34.65 L416.38,35.22 L414.98,36.52 L414.1,38.47 L413.8,40.93 L414.1,43.74 L414.98,46.7 L415.66,48.11 L415.66,90.83 L414.98,91.46 L414.1,93.41 L413.8,95.87 L414.1,98.68 L414.98,101.64 L416.38,104.56 L418.21,107.23 L420.34,109.48 L422.62,111.14 L424.9,112.11 Z" fill="#fff" stroke="#4a4a4a" stroke-width="1.03" stroke-linejoin="round" />
<path d="M471.79,141.91 L473.2,140.61 L477.84,137.93 L476.44,139.23 Z" fill="#fff" stroke="#ffffff" stroke-width="0.57" stroke-linejoin="round" />
<path d="M473.2,140.61 L474.08,138.66 L478.72,135.98 L477.84,137.93 Z" fill="#fff" stroke="#ffffff" stroke-width="0.57" stroke-linejoin="round" />
<path d="M474.08,138.66 L474.38,136.2 L479.02,133.52 L478.72,135.98 Z" fill="#fff" stroke="#ffffff" stroke-width="0.57" stroke-linejoin="round" />
<path d="M474.38,136.2 L474.08,133.39 L478.72,130.71 L479.02,133.52 Z" fill="#fff" stroke="#ffffff" stroke-width="0.57" stroke-linejoin="round" />
<path d="M474.08,133.39 L473.2,130.43 L477.84,127.75 L478.72,130.71 Z" fill="#fff" stroke="#ffffff" stroke-width="0.57" stroke-linejoin="round" />
<path d="M473.2,130.43 L472.52,129.02 L477.16,126.34 L477.84,127.75 Z" fill="#fff" stroke="#ffffff" stroke-width="0.57" stroke-linejoin="round" />
<path d="M472.52,129.02 L472.52,86.3 L477.16,83.62 L477.16,126.34 Z" fill="#fff" stroke="#ffffff" stroke-width="0.57" stroke-linejoin="round" />
<path d="M472.52,86.3 L473.2,85.67 L477.84,82.99 L477.16,83.62 Z" fill="#fff" stroke="#ffffff" stroke-width="0.57" stroke-linejoin="round" />
<path d="M473.2,85.67 L474.08,83.72 L478.72,81.04 L477.84,82.99 Z" fill="#fff" stroke="#ffffff" stroke-width="0.57" stroke-linejoin="round" />
<path d="M474.08,83.72 L474.38,81.26 L479.02,78.58 L478.72,81.04 Z" fill="#fff" stroke="#ffffff" stroke-width="0.57" stroke-linejoin="round" />
<path d="M474.38,81.26 L474.08,78.45 L478.72,75.77 L479.02,78.58 Z" fill="#fff" stroke="#ffffff" stroke-width="0.57" stroke-linejoin="round" />
<path d="M474.08,78.45 L473.2,75.49 L477.84,72.81 L478.72,75.77 Z" fill="#fff" stroke="#ffffff" stroke-width="0.57" stroke-linejoin="round" />
<path d="M473.2,75.49 L471.79,72.57 L476.44,69.89 L477.84,72.81 Z" fill="#fff" stroke="#ffffff" stroke-width="0.57" stroke-linejoin="round" />
<path d="M471.79,72.57 L469.97,69.9 L474.61,67.22 L476.44,69.89 Z" fill="#fff" stroke="#ffffff" stroke-width="0.57" stroke-linejoin="round" />
<path d="M469.97,69.9 L467.84,67.65 L472.48,64.97 L474.61,67.22 Z" fill="#fff" stroke="#ffffff" stroke-width="0.57" stroke-linejoin="round" />
<path d="M467.84,67.65 L465.56,65.99 L470.2,63.31 L472.48,64.97 Z" fill="#fff" stroke="#ffffff" stroke-width="0.57" stroke-linejoin="round" />
<path d="M465.56,65.99 L463.28,65.02 L467.92,62.34 L470.2,63.31 Z" fill="#fff" stroke="#ffffff" stroke-width="0.57" stroke-linejoin="round" />
<path d="M463.28,65.02 L461.15,64.8 L465.79,62.12 L467.92,62.34 Z" fill="#fff" stroke="#ffffff" stroke-width="0.57" stroke-linejoin="round" />
<path d="M461.15,64.8 L460.27,65.08 L464.91,62.4 L465.79,62.12 Z" fill="#fff" stroke="#ffffff" stroke-width="0.57" stroke-linejoin="round" />
<path d="M460.27,65.08 L423.27,43.71 L427.91,41.03 L464.91,62.4 Z" fill="#fff" stroke="#ffffff" stroke-width="0.57" stroke-linejoin="round" />
<path d="M423.27,43.71 L422.39,42.43 L427.03,39.75 L427.91,41.03 Z" fill="#fff" stroke="#ffffff" stroke-width="0.57" stroke-linejoin="round" />
<path d="M422.39,42.43 L420.26,40.18 L424.9,37.5 L427.03,39.75 Z" fill="#fff" stroke="#ffffff" stroke-width="0.57" stroke-linejoin="round" />
<path d="M420.26,40.18 L417.98,38.52 L422.62,35.84 L424.9,37.5 Z" fill="#fff" stroke="#ffffff" stroke-width="0.57" stroke-linejoin="round" />
<path d="M417.98,38.52 L415.7,37.55 L420.34,34.87 L422.62,35.84 Z" fill="#fff" stroke="#ffffff" stroke-width="0.57" stroke-linejoin="round" />
<path d="M415.7,37.55 L413.57,37.33 L418.21,34.65 L420.34,34.87 Z" fill="#fff" stroke="#ffffff" stroke-width="0.57" stroke-linejoin="round" />
<path d="M413.57,37.33 L411.74,37.9 L416.38,35.22 L418.21,34.65 Z" fill="#fff" stroke="#ffffff" stroke-width="0.57" stroke-linejoin="round" />
<line x1="476.44" y1="139.23" x2="477.84" y2="137.93" stroke="#4a4a4a" stroke-width="1.03" />
<line x1="477.84" y1="137.93" x2="478.72" y2="135.98" stroke="#4a4a4a" stroke-width="1.03" />
<line x1="478.72" y1="135.98" x2="479.02" y2="133.52" stroke="#4a4a4a" stroke-width="1.03" />
<line x1="479.02" y1="133.52" x2="478.72" y2="130.71" stroke="#4a4a4a" stroke-width="1.03" />
<line x1="478.72" y1="130.71" x2="477.84" y2="127.75" stroke="#4a4a4a" stroke-width="1.03" />
<line x1="477.84" y1="127.75" x2="477.16" y2="126.34" stroke="#4a4a4a" stroke-width="1.03" />
<line x1="477.16" y1="126.34" x2="477.16" y2="83.62" stroke="#4a4a4a" stroke-width="1.03" />
<line x1="477.16" y1="83.62" x2="477.84" y2="82.99" stroke="#4a4a4a" stroke-width="1.03" />
<line x1="477.84" y1="82.99" x2="478.72" y2="81.04" stroke="#4a4a4a" stroke-width="1.03" />
<line x1="478.72" y1="81.04" x2="479.02" y2="78.58" stroke="#4a4a4a" stroke-width="1.03" />
<line x1="479.02" y1="78.58" x2="478.72" y2="75.77" stroke="#4a4a4a" stroke-width="1.03" />
<line x1="478.72" y1="75.77" x2="477.84" y2="72.81" stroke="#4a4a4a" stroke-width="1.03" />
<line x1="477.84" y1="72.81" x2="476.44" y2="69.89" stroke="#4a4a4a" stroke-width="1.03" />
<line x1="476.44" y1="69.89" x2="474.61" y2="67.22" stroke="#4a4a4a" stroke-width="1.03" />
<line x1="474.61" y1="67.22" x2="472.48" y2="64.97" stroke="#4a4a4a" stroke-width="1.03" />
<line x1="472.48" y1="64.97" x2="470.2" y2="63.31" stroke="#4a4a4a" stroke-width="1.03" />
<line x1="470.2" y1="63.31" x2="467.92" y2="62.34" stroke="#4a4a4a" stroke-width="1.03" />
<line x1="467.92" y1="62.34" x2="465.79" y2="62.12" stroke="#4a4a4a" stroke-width="1.03" />
<line x1="465.79" y1="62.12" x2="464.91" y2="62.4" stroke="#4a4a4a" stroke-width="1.03" />
<line x1="464.91" y1="62.4" x2="427.91" y2="41.03" stroke="#4a4a4a" stroke-width="1.03" />
<line x1="427.91" y1="41.03" x2="427.03" y2="39.75" stroke="#4a4a4a" stroke-width="1.03" />
<line x1="427.03" y1="39.75" x2="424.9" y2="37.5" stroke="#4a4a4a" stroke-width="1.03" />
<line x1="424.9" y1="37.5" x2="422.62" y2="35.84" stroke="#4a4a4a" stroke-width="1.03" />
<line x1="422.62" y1="35.84" x2="420.34" y2="34.87" stroke="#4a4a4a" stroke-width="1.03" />
<line x1="420.34" y1="34.87" x2="418.21" y2="34.65" stroke="#4a4a4a" stroke-width="1.03" />
<line x1="418.21" y1="34.65" x2="416.38" y2="35.22" stroke="#4a4a4a" stroke-width="1.03" />
<line x1="471.79" y1="141.91" x2="476.44" y2="139.23" stroke="#4a4a4a" stroke-width="1.03" />
<line x1="472.52" y1="129.02" x2="477.16" y2="126.34" stroke="#4a4a4a" stroke-width="1.03" />
<line x1="472.52" y1="86.3" x2="477.16" y2="83.62" stroke="#4a4a4a" stroke-width="1.03" />
<line x1="460.27" y1="65.08" x2="464.91" y2="62.4" stroke="#4a4a4a" stroke-width="1.03" />
<line x1="423.27" y1="43.71" x2="427.91" y2="41.03" stroke="#4a4a4a" stroke-width="1.03" />
<line x1="411.74" y1="37.9" x2="416.38" y2="35.22" stroke="#4a4a4a" stroke-width="1.03" />
<path d="M422.39,115.01 L423.27,114.73 L460.27,136.1 L461.15,137.38 L463.28,139.63 L465.56,141.29 L467.84,142.26 L469.97,142.48 L471.79,141.91 L473.2,140.61 L474.08,138.66 L474.38,136.2 L474.08,133.39 L473.2,130.43 L472.52,129.02 L472.52,86.3 L473.2,85.67 L474.08,83.72 L474.38,81.26 L474.08,78.45 L473.2,75.49 L471.79,72.57 L469.97,69.9 L467.84,67.65 L465.56,65.99 L463.28,65.02 L461.15,64.8 L460.27,65.08 L423.27,43.71 L422.39,42.43 L420.26,40.18 L417.98,38.52 L415.7,37.55 L413.57,37.33 L411.74,37.9 L410.34,39.2 L409.46,41.15 L409.16,43.61 L409.46,46.42 L410.34,49.38 L411.02,50.79 L411.02,93.51 L410.34,94.14 L409.46,96.09 L409.16,98.55 L409.46,101.36 L410.34,104.32 L411.74,107.24 L413.57,109.91 L415.7,112.16 L417.98,113.82 L420.26,114.79 Z" fill="#fff" stroke="#4a4a4a" stroke-width="1.03" stroke-linejoin="round" />
<line x1="421.75" y1="42.84" x2="426.39" y2="40.16" stroke="#5e5e5e" stroke-width="0.52" />
<line x1="472.52" y1="130.78" x2="477.16" y2="128.09" stroke="#5e5e5e" stroke-width="0.52" />
<line x1="425.52" y1="45.01" x2="430.16" y2="42.33" stroke="#5e5e5e" stroke-width="0.52" />
<line x1="472.52" y1="126.42" x2="477.16" y2="123.74" stroke="#5e5e5e" stroke-width="0.52" />
<line x1="458.02" y1="63.77" x2="462.66" y2="61.09" stroke="#5e5e5e" stroke-width="0.52" />
<line x1="472.52" y1="88.9" x2="477.16" y2="86.22" stroke="#5e5e5e" stroke-width="0.52" />
<line x1="461.79" y1="65.95" x2="466.43" y2="63.27" stroke="#5e5e5e" stroke-width="0.52" />
<line x1="472.52" y1="84.54" x2="477.16" y2="81.86" stroke="#5e5e5e" stroke-width="0.52" />
<path d="M421.87,113.66 L422.32,113.52 L461.21,135.97 L461.67,136.64 L463.55,138.62 L465.56,140.09 L467.57,140.94 L469.45,141.13 L471.06,140.63 L472.29,139.49 L473.07,137.77 L473.33,135.6 L473.07,133.12 L472.29,130.51 L471.94,129.78 L471.94,84.87 L472.29,84.55 L473.07,82.83 L473.33,80.66 L473.07,78.18 L472.29,75.57 L471.06,73 L469.45,70.64 L467.57,68.66 L465.56,67.19 L463.55,66.34 L461.67,66.15 L461.21,66.29 L422.32,43.84 L421.87,43.17 L419.99,41.19 L417.98,39.72 L415.97,38.87 L414.09,38.68 L412.48,39.18 L411.25,40.32 L410.47,42.04 L410.2,44.21 L410.47,46.69 L411.25,49.3 L411.6,50.03 L411.6,94.94 L411.25,95.26 L410.47,96.98 L410.2,99.15 L410.47,101.63 L411.25,104.24 L412.48,106.81 L414.09,109.17 L415.97,111.15 L417.98,112.62 L419.99,113.47 Z" fill="#fff" stroke="#4a4a4a" stroke-width="1.03" stroke-linejoin="round" />
<path d="M449.59,153.03 L450.82,151.88 L472.29,139.49 L471.06,140.63 Z" fill="#fff" stroke="#ffffff" stroke-width="0.57" stroke-linejoin="round" />
<path d="M450.82,151.88 L451.6,150.16 L473.07,137.77 L472.29,139.49 Z" fill="#fff" stroke="#ffffff" stroke-width="0.57" stroke-linejoin="round" />
<path d="M451.6,150.16 L451.86,147.99 L473.33,135.6 L473.07,137.77 Z" fill="#fff" stroke="#ffffff" stroke-width="0.57" stroke-linejoin="round" />
<path d="M451.86,147.99 L451.6,145.52 L473.07,133.12 L473.33,135.6 Z" fill="#fff" stroke="#ffffff" stroke-width="0.57" stroke-linejoin="round" />
<path d="M451.6,145.52 L450.82,142.9 L472.29,130.51 L473.07,133.12 Z" fill="#fff" stroke="#ffffff" stroke-width="0.57" stroke-linejoin="round" />
<path d="M450.82,142.9 L450.47,142.17 L471.94,129.78 L472.29,130.51 Z" fill="#fff" stroke="#ffffff" stroke-width="0.57" stroke-linejoin="round" />
<path d="M450.47,142.17 L450.47,97.27 L471.94,84.87 L471.94,129.78 Z" fill="#fff" stroke="#ffffff" stroke-width="0.57" stroke-linejoin="round" />
<path d="M450.47,97.27 L450.82,96.94 L472.29,84.55 L471.94,84.87 Z" fill="#fff" stroke="#ffffff" stroke-width="0.57" stroke-linejoin="round" />
<path d="M450.82,96.94 L451.6,95.22 L473.07,82.83 L472.29,84.55 Z" fill="#fff" stroke="#ffffff" stroke-width="0.57" stroke-linejoin="round" />
<path d="M451.6,95.22 L451.86,93.05 L473.33,80.66 L473.07,82.83 Z" fill="#fff" stroke="#ffffff" stroke-width="0.57" stroke-linejoin="round" />
<path d="M451.86,93.05 L451.6,90.58 L473.07,78.18 L473.33,80.66 Z" fill="#fff" stroke="#ffffff" stroke-width="0.57" stroke-linejoin="round" />
<path d="M451.6,90.58 L450.82,87.96 L472.29,75.57 L473.07,78.18 Z" fill="#fff" stroke="#ffffff" stroke-width="0.57" stroke-linejoin="round" />
<path d="M450.82,87.96 L449.59,85.39 L471.06,73 L472.29,75.57 Z" fill="#fff" stroke="#ffffff" stroke-width="0.57" stroke-linejoin="round" />
<path d="M449.59,85.39 L447.98,83.03 L469.45,70.64 L471.06,73 Z" fill="#fff" stroke="#ffffff" stroke-width="0.57" stroke-linejoin="round" />
<path d="M447.98,83.03 L446.1,81.05 L467.57,68.66 L469.45,70.64 Z" fill="#fff" stroke="#ffffff" stroke-width="0.57" stroke-linejoin="round" />
<path d="M446.1,81.05 L444.09,79.59 L465.56,67.19 L467.57,68.66 Z" fill="#fff" stroke="#ffffff" stroke-width="0.57" stroke-linejoin="round" />
<path d="M444.09,79.59 L442.08,78.73 L463.55,66.34 L465.56,67.19 Z" fill="#fff" stroke="#ffffff" stroke-width="0.57" stroke-linejoin="round" />
<path d="M442.08,78.73 L440.2,78.55 L461.67,66.15 L463.55,66.34 Z" fill="#fff" stroke="#ffffff" stroke-width="0.57" stroke-linejoin="round" />
<path d="M440.2,78.55 L439.74,78.69 L461.21,66.29 L461.67,66.15 Z" fill="#fff" stroke="#ffffff" stroke-width="0.57" stroke-linejoin="round" />
<path d="M439.74,78.69 L400.86,56.23 L422.32,43.84 L461.21,66.29 Z" fill="#fff" stroke="#ffffff" stroke-width="0.57" stroke-linejoin="round" />
<path d="M400.86,56.23 L400.4,55.56 L421.87,43.17 L422.32,43.84 Z" fill="#fff" stroke="#ffffff" stroke-width="0.57" stroke-linejoin="round" />
<path d="M400.4,55.56 L398.52,53.58 L419.99,41.19 L421.87,43.17 Z" fill="#fff" stroke="#ffffff" stroke-width="0.57" stroke-linejoin="round" />
<path d="M398.52,53.58 L396.51,52.12 L417.98,39.72 L419.99,41.19 Z" fill="#fff" stroke="#ffffff" stroke-width="0.57" stroke-linejoin="round" />
<path d="M396.51,52.12 L394.5,51.26 L415.97,38.87 L417.98,39.72 Z" fill="#fff" stroke="#ffffff" stroke-width="0.57" stroke-linejoin="round" />
<path d="M394.5,51.26 L392.62,51.08 L414.09,38.68 L415.97,38.87 Z" fill="#fff" stroke="#ffffff" stroke-width="0.57" stroke-linejoin="round" />
<path d="M392.62,51.08 L391.01,51.57 L412.48,39.18 L414.09,38.68 Z" fill="#fff" stroke="#ffffff" stroke-width="0.57" stroke-linejoin="round" />
<line x1="471.06" y1="140.63" x2="472.29" y2="139.49" stroke="#4a4a4a" stroke-width="1.03" />
<line x1="472.29" y1="139.49" x2="473.07" y2="137.77" stroke="#4a4a4a" stroke-width="1.03" />
<line x1="473.07" y1="137.77" x2="473.33" y2="135.6" stroke="#4a4a4a" stroke-width="1.03" />
<line x1="473.33" y1="135.6" x2="473.07" y2="133.12" stroke="#4a4a4a" stroke-width="1.03" />
<line x1="473.07" y1="133.12" x2="472.29" y2="130.51" stroke="#4a4a4a" stroke-width="1.03" />
<line x1="472.29" y1="130.51" x2="471.94" y2="129.78" stroke="#4a4a4a" stroke-width="1.03" />
<line x1="471.94" y1="129.78" x2="471.94" y2="84.87" stroke="#4a4a4a" stroke-width="1.03" />
<line x1="471.94" y1="84.87" x2="472.29" y2="84.55" stroke="#4a4a4a" stroke-width="1.03" />
<line x1="472.29" y1="84.55" x2="473.07" y2="82.83" stroke="#4a4a4a" stroke-width="1.03" />
<line x1="473.07" y1="82.83" x2="473.33" y2="80.66" stroke="#4a4a4a" stroke-width="1.03" />
<line x1="473.33" y1="80.66" x2="473.07" y2="78.18" stroke="#4a4a4a" stroke-width="1.03" />
<line x1="473.07" y1="78.18" x2="472.29" y2="75.57" stroke="#4a4a4a" stroke-width="1.03" />
<line x1="472.29" y1="75.57" x2="471.06" y2="73" stroke="#4a4a4a" stroke-width="1.03" />
<line x1="471.06" y1="73" x2="469.45" y2="70.64" stroke="#4a4a4a" stroke-width="1.03" />
<line x1="469.45" y1="70.64" x2="467.57" y2="68.66" stroke="#4a4a4a" stroke-width="1.03" />
<line x1="467.57" y1="68.66" x2="465.56" y2="67.19" stroke="#4a4a4a" stroke-width="1.03" />
<line x1="465.56" y1="67.19" x2="463.55" y2="66.34" stroke="#4a4a4a" stroke-width="1.03" />
<line x1="463.55" y1="66.34" x2="461.67" y2="66.15" stroke="#4a4a4a" stroke-width="1.03" />
<line x1="461.67" y1="66.15" x2="461.21" y2="66.29" stroke="#4a4a4a" stroke-width="1.03" />
<line x1="461.21" y1="66.29" x2="422.32" y2="43.84" stroke="#4a4a4a" stroke-width="1.03" />
<line x1="422.32" y1="43.84" x2="421.87" y2="43.17" stroke="#4a4a4a" stroke-width="1.03" />
<line x1="421.87" y1="43.17" x2="419.99" y2="41.19" stroke="#4a4a4a" stroke-width="1.03" />
<line x1="419.99" y1="41.19" x2="417.98" y2="39.72" stroke="#4a4a4a" stroke-width="1.03" />
<line x1="417.98" y1="39.72" x2="415.97" y2="38.87" stroke="#4a4a4a" stroke-width="1.03" />
<line x1="415.97" y1="38.87" x2="414.09" y2="38.68" stroke="#4a4a4a" stroke-width="1.03" />
<line x1="414.09" y1="38.68" x2="412.48" y2="39.18" stroke="#4a4a4a" stroke-width="1.03" />
<line x1="449.59" y1="153.03" x2="471.06" y2="140.63" stroke="#4a4a4a" stroke-width="1.03" />
<line x1="450.47" y1="142.17" x2="471.94" y2="129.78" stroke="#4a4a4a" stroke-width="1.03" />
<line x1="450.47" y1="97.27" x2="471.94" y2="84.87" stroke="#4a4a4a" stroke-width="1.03" />
<line x1="439.74" y1="78.69" x2="461.21" y2="66.29" stroke="#4a4a4a" stroke-width="1.03" />
<line x1="400.86" y1="56.23" x2="422.32" y2="43.84" stroke="#4a4a4a" stroke-width="1.03" />
<line x1="391.01" y1="51.57" x2="412.48" y2="39.18" stroke="#4a4a4a" stroke-width="1.03" />
<path d="M400.4,126.05 L400.86,125.91 L439.74,148.37 L440.2,149.04 L442.08,151.02 L444.09,152.48 L446.1,153.34 L447.98,153.52 L449.59,153.03 L450.82,151.88 L451.6,150.16 L451.86,147.99 L451.6,145.52 L450.82,142.9 L450.47,142.17 L450.47,97.27 L450.82,96.94 L451.6,95.22 L451.86,93.05 L451.6,90.58 L450.82,87.96 L449.59,85.39 L447.98,83.03 L446.1,81.05 L444.09,79.59 L442.08,78.73 L440.2,78.55 L439.74,78.69 L400.86,56.23 L400.4,55.56 L398.52,53.58 L396.51,52.12 L394.5,51.26 L392.62,51.08 L391.01,51.57 L389.78,52.72 L389,54.44 L388.74,56.61 L389,59.08 L389.78,61.7 L390.13,62.43 L390.13,107.33 L389.78,107.66 L389,109.38 L388.74,111.55 L389,114.02 L389.78,116.64 L391.01,119.21 L392.62,121.57 L394.5,123.55 L396.51,125.01 L398.52,125.87 Z" fill="#fff" stroke="#4a4a4a" stroke-width="1.03" stroke-linejoin="round" />
<path d="M399.81,124.55 L398.22,124.39 L396.51,123.66 L394.8,122.41 L393.21,120.73 L391.84,118.73 L390.79,116.55 L390.13,114.33 L389.91,112.22 L390.13,110.38 L390.79,108.92 L391.05,108.68 L391.11,108.61 L391.16,108.53 L391.21,108.45 L391.24,108.35 L391.27,108.24 L391.28,108.13 L391.29,108 L391.29,63.1 L391.28,62.97 L391.27,62.84 L391.24,62.7 L391.21,62.56 L391.16,62.42 L391.11,62.28 L391.05,62.14 L390.79,61.61 L390.13,59.39 L389.91,57.28 L390.13,55.44 L390.79,53.98 L391.84,53.01 L393.21,52.58 L394.8,52.74 L396.51,53.47 L398.22,54.72 L399.81,56.4 L400.15,56.89 L400.24,57.01 L400.33,57.13 L400.43,57.24 L400.53,57.34 L400.64,57.43 L400.75,57.51 L400.86,57.57 L439.74,80.03 L439.85,80.08 L439.96,80.13 L440.07,80.16 L440.17,80.18 L440.27,80.18 L440.36,80.18 L440.45,80.16 L440.79,80.05 L442.38,80.21 L444.09,80.94 L445.8,82.19 L447.39,83.87 L448.76,85.87 L449.81,88.05 L450.47,90.27 L450.69,92.38 L450.47,94.22 L449.81,95.68 L449.55,95.92 L449.49,95.99 L449.44,96.07 L449.39,96.15 L449.36,96.25 L449.33,96.36 L449.32,96.47 L449.31,96.6 L449.31,141.5 L449.32,141.63 L449.33,141.76 L449.36,141.9 L449.39,142.04 L449.44,142.18 L449.49,142.32 L449.55,142.46 L449.81,142.99 L450.47,145.21 L450.69,147.32 L450.47,149.16 L449.81,150.62 L448.76,151.59 L447.39,152.02 L445.8,151.86 L444.09,151.13 L442.38,149.88 L440.79,148.2 L440.45,147.71 L440.36,147.59 L440.27,147.47 L440.17,147.36 L440.07,147.26 L439.96,147.17 L439.85,147.09 L439.74,147.03 L400.86,124.57 L400.75,124.52 L400.64,124.47 L400.53,124.44 L400.43,124.42 L400.33,124.42 L400.24,124.42 L400.15,124.44 Z" fill="none" stroke="#6e6e6e" stroke-width="0.52" stroke-linejoin="round" />
<line x1="399.41" y1="55.4" x2="420.88" y2="43" stroke="#4a4a4a" stroke-width="0.63" />
<line x1="450.47" y1="95.6" x2="471.94" y2="83.2" stroke="#4a4a4a" stroke-width="0.63" />
<line x1="405.21" y1="58.75" x2="426.68" y2="46.35" stroke="#4a4a4a" stroke-width="0.63" />
<line x1="450.47" y1="102.3" x2="471.94" y2="89.91" stroke="#4a4a4a" stroke-width="0.63" />
<line x1="435.39" y1="76.17" x2="456.85" y2="63.77" stroke="#4a4a4a" stroke-width="0.63" />
<line x1="450.47" y1="137.14" x2="471.94" y2="124.75" stroke="#4a4a4a" stroke-width="0.63" />
<line x1="441.19" y1="79.52" x2="462.66" y2="67.12" stroke="#4a4a4a" stroke-width="0.63" />
<line x1="450.47" y1="143.84" x2="471.94" y2="131.44" stroke="#4a4a4a" stroke-width="0.63" />
<path d="M484.6,80.2 C485.6,76.6 488.2,74.6 491.2,74.4 C495.5,74.2 501.5,77.5 503.6,83.0 C504.4,85.6 503.8,88.0 502.4,89.8 L494.4,99.2 C492.0,102.4 489.6,106.6 486.6,107.2 C483.4,107.6 481.4,103.6 481.0,97.6 C480.8,91.6 482.6,84.8 484.6,80.2 Z" fill="#fff" stroke="#4a4a4a" stroke-width="0.98" stroke-linejoin="round" />
<path d="M486.4,81.4 C484.6,86 483.2,92 483.4,97.4 C483.6,101.8 484.8,104.6 486.6,105.2" fill="none" stroke="#6e6e6e" stroke-width="0.57" stroke-linejoin="round" />
<path d="M500.08,81.03 L500.94,82.25 L501.61,83.54 L502.06,84.87 L502.3,86.2 L502.31,87.51 L502.09,88.75 L501.65,89.91 L501.01,90.94 L500.16,91.83 L499.15,92.55 L497.99,93.09 L496.7,93.42 L495.33,93.56 L493.91,93.48 L492.46,93.19 L491.03,92.71 L489.65,92.03 L488.36,91.19 L487.19,90.19 L486.16,89.07 L485.3,87.84 L484.63,86.55 L484.18,85.22 L483.94,83.89 L483.93,82.59 L484.15,81.34 L484.59,80.19 L485.23,79.16 L486.07,78.27 L487.09,77.55 L488.25,77.01 L489.54,76.67 L490.91,76.54 L492.33,76.62 L493.78,76.9 L495.21,77.39 L496.59,78.06 L497.88,78.91 L499.05,79.9 Z" fill="#fff" stroke="#5e5e5e" stroke-width="0.69" stroke-linejoin="round" />
<path d="M491.74,77.3 L490.6,77.41 L489.53,77.69 L488.56,78.14 L487.71,78.74 L487.01,79.48 L486.55,80.14 L486.01,81 L485.64,81.96 L485.46,83 L485.47,84.08 L485.67,85.19 L486.05,86.3 L486.6,87.38 L487.32,88.4 L488.17,89.33 L489.15,90.17 L490.23,90.87 L491.38,91.43 L492.57,91.84 L493.77,92.07 L494.96,92.14 L496.11,92.03 L497.18,91.75 L498.14,91.3 L498.99,90.7 L499.69,89.96 L500.16,89.3 L500.7,88.44 L501.06,87.48 L501.24,86.44 L501.23,85.35 L501.04,84.24 L500.66,83.13 L500.1,82.06 L499.39,81.04 L498.53,80.1 L497.55,79.27 L496.47,78.56 L495.32,78 L494.13,77.6 L492.93,77.36 Z" fill="#fff" stroke="#4a4a4a" stroke-width="0.69" stroke-linejoin="round" />
<path d="M499.39,81.04 L500.1,82.06 L500.66,83.13 L501.04,84.24 L501.23,85.35 L501.24,86.44 L501.06,87.48 L500.7,88.44 L500.16,89.3 L499.45,90.04 L498.61,90.64 L497.64,91.09 L496.57,91.37 L495.43,91.48 L494.24,91.41 L493.03,91.18 L491.84,90.77 L490.7,90.21 L489.62,89.5 L488.64,88.67 L487.78,87.74 L487.07,86.72 L486.51,85.64 L486.13,84.53 L485.94,83.42 L485.93,82.34 L486.11,81.3 L486.47,80.34 L487.01,79.48 L487.71,78.74 L488.56,78.14 L489.53,77.69 L490.6,77.41 L491.74,77.3 L492.93,77.36 L494.13,77.6 L495.32,78 L496.47,78.56 L497.55,79.27 L498.53,80.1 Z" fill="#fff" stroke="#4a4a4a" stroke-width="0.69" stroke-linejoin="round" />
<path d="M494.25,75.75 L489.38,78.56 L487.49,81.25 L488.71,87.2 L494.8,90.34 L499.68,87.53 L501.56,84.84 L500.34,78.89 Z" fill="#fff" stroke="#4a4a4a" stroke-width="0.8" stroke-linejoin="round" />
<line x1="498.46" y1="81.57" x2="500.34" y2="78.89" stroke="#4a4a4a" stroke-width="0.52" />
<line x1="499.68" y1="87.53" x2="501.56" y2="84.84" stroke="#4a4a4a" stroke-width="0.52" />
<line x1="494.8" y1="90.34" x2="496.69" y2="87.66" stroke="#4a4a4a" stroke-width="0.52" />
<line x1="488.71" y1="87.2" x2="490.6" y2="84.52" stroke="#4a4a4a" stroke-width="0.52" />
<line x1="487.49" y1="81.25" x2="489.38" y2="78.56" stroke="#4a4a4a" stroke-width="0.52" />
<line x1="492.37" y1="78.43" x2="494.25" y2="75.75" stroke="#4a4a4a" stroke-width="0.52" />
<path d="M500.34,78.89 L501.56,84.84 L496.69,87.66 L490.6,84.52 L489.38,78.56 L494.25,75.75 Z" fill="#fff" stroke="#4a4a4a" stroke-width="0.8" stroke-linejoin="round" />
<path d="M494.87,76.34 L494.14,76.41 L493.45,76.59 L492.83,76.88 L492.29,77.26 L491.84,77.74 L491.26,78.56 L490.92,79.11 L490.69,79.73 L490.57,80.39 L490.58,81.09 L490.7,81.8 L490.94,82.51 L491.3,83.2 L491.76,83.85 L492.3,84.45 L492.93,84.98 L493.62,85.43 L494.36,85.79 L495.12,86.05 L495.89,86.2 L496.65,86.24 L497.38,86.17 L498.07,85.99 L498.69,85.71 L499.23,85.32 L499.68,84.85 L500.26,84.02 L500.6,83.47 L500.83,82.86 L500.95,82.19 L500.94,81.5 L500.82,80.78 L500.58,80.08 L500.22,79.39 L499.76,78.74 L499.21,78.14 L498.59,77.6 L497.9,77.15 L497.16,76.79 L496.4,76.53 L495.63,76.38 Z" fill="#fff" stroke="#4a4a4a" stroke-width="0.63" stroke-linejoin="round" />
<path d="M499.76,78.74 L500.22,79.39 L500.58,80.08 L500.82,80.78 L500.94,81.5 L500.95,82.19 L500.83,82.86 L500.6,83.47 L500.26,84.02 L499.81,84.5 L499.27,84.88 L498.65,85.17 L497.96,85.35 L497.23,85.42 L496.47,85.38 L495.7,85.22 L494.94,84.97 L494.2,84.61 L493.51,84.15 L492.89,83.62 L492.34,83.02 L491.88,82.37 L491.52,81.68 L491.28,80.97 L491.16,80.26 L491.15,79.57 L491.27,78.9 L491.5,78.29 L491.84,77.74 L492.29,77.26 L492.83,76.88 L493.45,76.59 L494.14,76.41 L494.87,76.34 L495.63,76.38 L496.4,76.53 L497.16,76.79 L497.9,77.15 L498.59,77.6 L499.21,78.14 Z" fill="#fff" stroke="#4a4a4a" stroke-width="0.63" stroke-linejoin="round" />
<path d="M496.35,72.87 L495.46,72.96 L494.63,73.18 L493.87,73.53 L493.21,74 L492.66,74.57 L490.92,77.05 L490.5,77.72 L490.22,78.47 L490.08,79.28 L490.08,80.13 L490.24,80.99 L490.53,81.86 L490.97,82.7 L491.52,83.49 L492.19,84.22 L492.96,84.87 L493.8,85.42 L494.69,85.86 L495.62,86.17 L496.56,86.36 L497.49,86.41 L498.38,86.32 L499.21,86.1 L499.97,85.75 L500.63,85.29 L501.18,84.71 L502.92,82.23 L503.34,81.56 L503.62,80.81 L503.76,80 L503.76,79.15 L503.6,78.29 L503.31,77.42 L502.87,76.58 L502.32,75.79 L501.65,75.06 L500.88,74.41 L500.04,73.86 L499.15,73.42 L498.22,73.11 L497.28,72.92 Z" fill="#fff" stroke="#4a4a4a" stroke-width="0.86" stroke-linejoin="round" />
<path d="M502.32,75.79 L502.87,76.58 L503.31,77.42 L503.6,78.29 L503.76,79.15 L503.76,80 L503.62,80.81 L503.34,81.56 L502.92,82.23 L502.37,82.81 L501.71,83.28 L500.95,83.63 L500.12,83.85 L499.23,83.93 L498.3,83.88 L497.36,83.7 L496.43,83.38 L495.54,82.94 L494.7,82.39 L493.93,81.75 L493.26,81.02 L492.71,80.22 L492.28,79.38 L491.98,78.52 L491.83,77.65 L491.82,76.8 L491.96,75.99 L492.24,75.24 L492.66,74.57 L493.21,74 L493.87,73.53 L494.63,73.18 L495.46,72.96 L496.35,72.87 L497.28,72.92 L498.22,73.11 L499.15,73.42 L500.04,73.86 L500.88,74.41 L501.65,75.06 Z" fill="#fff" stroke="#4a4a4a" stroke-width="0.86" stroke-linejoin="round" />
<path d="M500.34,76.93 L500.75,77.53 L501.02,78.17 L501.16,78.83 L501.14,79.46 L500.98,80.05 L500.68,80.56 L500.26,80.98 L499.72,81.29 L499.1,81.47 L498.43,81.52 L497.73,81.43 L497.02,81.21 L496.36,80.87 L495.75,80.42 L495.24,79.88 L494.83,79.27 L494.56,78.63 L494.43,77.98 L494.44,77.34 L494.6,76.76 L494.9,76.24 L495.32,75.82 L495.86,75.51 L496.48,75.33 L497.15,75.28 L497.86,75.37 L498.56,75.59 L499.22,75.94 L499.83,76.39 Z" fill="#fff" stroke="#4a4a4a" stroke-width="0.63" stroke-linejoin="round" />
<path d="M401.12,73.77 L399.03,75.31 L397.26,77.34 L395.86,79.82 L394.84,82.7 L394.22,85.93 L394.02,89.47 L394.22,93.24 L394.84,97.2 L395.86,101.25 L397.26,105.35 L399.03,109.41 L401.12,113.37 L403.5,117.17 L406.14,120.72 L408.99,123.99 L411.99,126.9 L415.1,129.41 L418.27,131.48 L421.43,133.07 L424.55,134.15 L427.55,134.71 L430.4,134.73 L433.03,134.22 L435.42,133.18 L437.45,132 L439.54,130.46 L441.3,128.43 L442.71,125.95 L443.73,123.07 L444.35,119.84 L444.55,116.3 L444.35,112.53 L443.73,108.58 L442.71,104.52 L441.3,100.42 L439.54,96.36 L437.45,92.4 L435.06,88.61 L432.43,85.05 L429.58,81.78 L426.58,78.87 L423.47,76.36 L420.3,74.29 L417.13,72.71 L414.02,71.62 L411.02,71.07 L408.17,71.04 L405.54,71.56 L403.15,72.6 Z" fill="#b8b8b8" stroke="#3d3d3d" stroke-width="1.15" stroke-linejoin="round" />
<path d="M442.52,117.48 L442.32,113.7 L441.7,109.75 L440.68,105.69 L439.27,101.6 L437.51,97.53 L435.42,93.57 L433.03,89.78 L430.4,86.22 L427.55,82.96 L424.55,80.05 L421.43,77.53 L418.27,75.47 L415.1,73.88 L411.99,72.8 L408.99,72.24 L406.14,72.22 L403.5,72.73 L401.12,73.77 L399.03,75.31 L397.26,77.34 L395.86,79.82 L394.84,82.7 L394.22,85.93 L394.02,89.47 L394.22,93.24 L394.84,97.2 L395.86,101.25 L397.26,105.35 L399.03,109.41 L401.12,113.37 L403.5,117.17 L406.14,120.72 L408.99,123.99 L411.99,126.9 L415.1,129.41 L418.27,131.48 L421.43,133.07 L424.55,134.15 L427.55,134.71 L430.4,134.73 L433.03,134.22 L435.42,133.18 L437.51,131.63 L439.27,129.6 L440.68,127.13 L441.7,124.25 L442.32,121.01 Z" fill="#b8b8b8" stroke="#3d3d3d" stroke-width="1.15" stroke-linejoin="round" />
<path d="M440.32,116.2 L440.13,112.77 L439.57,109.18 L438.64,105.49 L437.36,101.77 L435.76,98.07 L433.86,94.47 L431.69,91.02 L429.29,87.79 L426.71,84.82 L423.98,82.17 L421.15,79.89 L418.27,78.01 L415.39,76.57 L412.56,75.59 L409.83,75.08 L407.24,75.06 L404.85,75.52 L402.68,76.47 L400.78,77.87 L399.17,79.72 L397.9,81.97 L396.97,84.59 L396.41,87.53 L396.22,90.74 L396.41,94.17 L396.97,97.77 L397.9,101.45 L399.17,105.18 L400.78,108.87 L402.68,112.47 L404.85,115.92 L407.24,119.16 L409.83,122.12 L412.56,124.77 L415.39,127.05 L418.27,128.93 L421.15,130.38 L423.98,131.36 L426.71,131.87 L429.29,131.89 L431.69,131.42 L433.86,130.48 L435.76,129.07 L437.36,127.23 L438.64,124.98 L439.57,122.36 L440.13,119.42 Z" fill="#fff" stroke="#4a4a4a" stroke-width="0.92" stroke-linejoin="round" />
<path d="M439.1,115.16 L438.92,111.97 L438.4,108.62 L437.54,105.18 L436.35,101.72 L434.86,98.27 L433.08,94.92 L431.06,91.71 L428.83,88.69 L426.42,85.93 L423.88,83.46 L421.24,81.34 L418.56,79.59 L415.88,78.24 L413.24,77.33 L410.7,76.85 L408.29,76.84 L406.06,77.27 L404.04,78.15 L402.26,79.46 L400.77,81.18 L399.58,83.27 L398.72,85.71 L398.19,88.45 L398.02,91.45 L398.19,94.64 L398.72,97.99 L399.58,101.43 L400.77,104.89 L402.26,108.34 L404.04,111.69 L406.06,114.9 L408.29,117.92 L410.7,120.68 L413.24,123.15 L415.88,125.27 L418.56,127.02 L421.24,128.37 L423.88,129.28 L426.42,129.76 L428.83,129.77 L431.06,129.34 L433.08,128.46 L434.86,127.15 L436.35,125.43 L437.54,123.34 L438.4,120.9 L438.92,118.16 Z" fill="#f2f2f2" stroke="#4a4a4a" stroke-width="0.69" stroke-linejoin="round" />
<g stroke-dasharray="1.3 1.9">
<path d="M437.07,113.66 L436.91,110.82 L436.45,107.85 L435.68,104.8 L434.63,101.73 L433.3,98.68 L431.73,95.7 L429.94,92.85 L427.96,90.18 L425.82,87.73 L423.56,85.54 L421.23,83.65 L418.85,82.1 L416.47,80.91 L414.13,80.09 L411.88,79.68 L409.74,79.66 L407.76,80.04 L405.97,80.82 L404.39,81.99 L403.07,83.51 L402.02,85.37 L401.25,87.53 L400.79,89.96 L400.63,92.62 L400.79,95.45 L401.25,98.42 L402.02,101.47 L403.07,104.55 L404.39,107.6 L405.97,110.58 L407.76,113.42 L409.74,116.1 L411.88,118.55 L414.13,120.74 L416.47,122.62 L418.85,124.18 L421.23,125.37 L423.56,126.18 L425.82,126.6 L427.96,126.62 L429.94,126.23 L431.73,125.45 L433.3,124.29 L434.63,122.77 L435.68,120.91 L436.45,118.74 L436.91,116.31 Z" fill="none" stroke="#7e7e7e" stroke-width="2.18" stroke-linejoin="round" />
</g>
<path d="M438.35,114.39 L438.18,111.36 L437.68,108.18 L436.86,104.92 L435.73,101.63 L434.32,98.36 L432.64,95.18 L430.72,92.13 L428.6,89.27 L426.31,86.65 L423.9,84.31 L421.39,82.29 L418.85,80.63 L416.3,79.35 L413.8,78.48 L411.39,78.03 L409.1,78.01 L406.98,78.43 L405.06,79.26 L403.38,80.5 L401.97,82.13 L400.84,84.12 L400.02,86.44 L399.52,89.04 L399.35,91.88 L399.52,94.92 L400.02,98.09 L400.84,101.35 L401.97,104.65 L403.38,107.91 L405.06,111.1 L406.98,114.15 L409.1,117.01 L411.39,119.63 L413.8,121.97 L416.3,123.99 L418.85,125.65 L421.39,126.93 L423.9,127.8 L426.31,128.24 L428.6,128.26 L430.72,127.85 L432.64,127.02 L434.32,125.77 L435.73,124.14 L436.86,122.15 L437.68,119.84 L438.18,117.24 Z" fill="none" stroke="#7e7e7e" stroke-width="0.57" stroke-linejoin="round" />
<path d="M435.33,112.65 L435.19,110.09 L434.77,107.4 L434.07,104.65 L433.12,101.86 L431.92,99.1 L430.5,96.41 L428.88,93.83 L427.09,91.42 L425.16,89.2 L423.11,87.22 L421,85.51 L418.85,84.11 L416.7,83.03 L414.58,82.3 L412.54,81.92 L410.61,81.9 L408.82,82.25 L407.2,82.96 L405.78,84.01 L404.58,85.38 L403.63,87.07 L402.93,89.02 L402.51,91.22 L402.37,93.62 L402.51,96.19 L402.93,98.87 L403.63,101.63 L404.58,104.41 L405.78,107.17 L407.2,109.86 L408.82,112.44 L410.61,114.86 L412.54,117.08 L414.58,119.05 L416.7,120.76 L418.85,122.17 L421,123.24 L423.11,123.98 L425.16,124.36 L427.09,124.37 L428.88,124.03 L430.5,123.32 L431.92,122.27 L433.12,120.89 L434.07,119.21 L434.77,117.25 L435.19,115.05 Z" fill="#fff" stroke="#4a4a4a" stroke-width="0.92" stroke-linejoin="round" />
<path d="M433.3,111.81 L433.17,109.52 L432.8,107.12 L432.18,104.65 L431.32,102.17 L430.25,99.7 L428.98,97.29 L427.53,94.98 L425.93,92.82 L424.2,90.84 L422.37,89.07 L420.48,87.54 L418.56,86.29 L416.64,85.32 L414.74,84.66 L412.92,84.33 L411.19,84.31 L409.59,84.62 L408.14,85.25 L406.87,86.19 L405.8,87.43 L404.94,88.93 L404.32,90.68 L403.95,92.65 L403.82,94.8 L403.95,97.09 L404.32,99.49 L404.94,101.96 L405.8,104.44 L406.87,106.91 L408.14,109.32 L409.59,111.63 L411.19,113.79 L412.92,115.77 L414.74,117.54 L416.64,119.07 L418.56,120.32 L420.48,121.29 L422.37,121.95 L424.2,122.28 L425.93,122.3 L427.53,121.99 L428.98,121.36 L430.25,120.42 L431.32,119.18 L432.18,117.68 L432.8,115.93 L433.17,113.96 Z" fill="#fff" stroke="#4a4a4a" stroke-width="0.69" stroke-linejoin="round" />
<path d="M404.56,89.78 L403.42,90.63 L402.46,91.73 L401.7,93.08 L401.14,94.65 L400.8,96.42 L400.69,98.35 L400.8,100.41 L401.14,102.56 L401.7,104.77 L402.46,107.01 L403.42,109.22 L404.56,111.39 L405.86,113.45 L407.3,115.4 L408.85,117.18 L410.49,118.76 L412.19,120.13 L413.92,121.26 L415.64,122.13 L417.34,122.72 L418.98,123.02 L420.53,123.03 L421.97,122.75 L423.27,122.19 L428.49,119.17 L429.64,118.33 L430.6,117.22 L431.36,115.87 L431.92,114.3 L432.26,112.54 L432.37,110.61 L432.26,108.55 L431.92,106.39 L431.36,104.18 L430.6,101.95 L429.64,99.73 L428.49,97.57 L427.19,95.5 L425.75,93.56 L424.2,91.78 L422.56,90.19 L420.87,88.82 L419.14,87.69 L417.41,86.83 L415.72,86.24 L414.08,85.93 L412.52,85.92 L411.09,86.2 L409.78,86.77 Z" fill="#fff" stroke="#4a4a4a" stroke-width="0.92" stroke-linejoin="round" />
<path d="M427.15,113.62 L427.03,111.56 L426.7,109.41 L426.14,107.2 L425.37,104.96 L424.41,102.75 L423.27,100.58 L421.97,98.52 L420.53,96.57 L418.98,94.79 L417.34,93.21 L415.64,91.84 L413.92,90.71 L412.19,89.84 L410.49,89.25 L408.85,88.95 L407.3,88.94 L405.86,89.22 L404.56,89.78 L403.42,90.63 L402.46,91.73 L401.7,93.08 L401.14,94.65 L400.8,96.42 L400.69,98.35 L400.8,100.41 L401.14,102.56 L401.7,104.77 L402.46,107.01 L403.42,109.22 L404.56,111.39 L405.86,113.45 L407.3,115.4 L408.85,117.18 L410.49,118.76 L412.19,120.13 L413.92,121.26 L415.64,122.13 L417.34,122.72 L418.98,123.02 L420.53,123.03 L421.97,122.75 L423.27,122.19 L424.41,121.34 L425.37,120.24 L426.14,118.89 L426.7,117.32 L427.03,115.55 Z" fill="#fff" stroke="#4a4a4a" stroke-width="0.92" stroke-linejoin="round" />
<path d="M425.29,112.55 L425.19,110.78 L424.9,108.93 L424.42,107.03 L423.77,105.11 L422.94,103.2 L421.96,101.34 L420.84,99.56 L419.6,97.9 L418.27,96.37 L416.86,95 L415.4,93.82 L413.92,92.85 L412.43,92.11 L410.97,91.6 L409.57,91.34 L408.23,91.33 L406.99,91.57 L405.88,92.06 L404.89,92.78 L404.07,93.73 L403.41,94.89 L402.93,96.24 L402.64,97.76 L402.54,99.42 L402.64,101.19 L402.93,103.04 L403.41,104.94 L404.07,106.86 L404.89,108.77 L405.88,110.63 L406.99,112.41 L408.23,114.07 L409.57,115.6 L410.97,116.97 L412.43,118.15 L413.92,119.12 L415.4,119.86 L416.86,120.37 L418.27,120.63 L419.6,120.64 L420.84,120.4 L421.96,119.91 L422.94,119.19 L423.77,118.24 L424.42,117.08 L424.9,115.73 L425.19,114.21 Z" fill="none" stroke="#7e7e7e" stroke-width="0.57" stroke-linejoin="round" />
<path d="M401.93,96.61 L401.07,97.25 L400.34,98.08 L399.76,99.1 L399.35,100.28 L399.09,101.62 L399.01,103.07 L399.09,104.62 L399.35,106.25 L399.76,107.92 L400.34,109.6 L401.07,111.28 L401.93,112.91 L402.91,114.47 L404,115.93 L405.17,117.27 L406.4,118.47 L407.68,119.51 L408.99,120.36 L410.29,121.01 L411.57,121.46 L412.8,121.68 L413.98,121.69 L415.06,121.48 L416.04,121.06 L420.97,118.21 L421.84,117.57 L422.56,116.74 L423.14,115.72 L423.56,114.53 L423.81,113.2 L423.9,111.75 L423.81,110.19 L423.56,108.57 L423.14,106.9 L422.56,105.21 L421.84,103.54 L420.97,101.91 L419.99,100.35 L418.91,98.89 L417.74,97.54 L416.5,96.34 L415.22,95.31 L413.92,94.46 L412.61,93.81 L411.33,93.36 L410.1,93.13 L408.93,93.12 L407.84,93.33 L406.86,93.76 Z" fill="#fff" stroke="#4a4a4a" stroke-width="0.8" stroke-linejoin="round" />
<path d="M418.97,114.59 L418.88,113.04 L418.63,111.42 L418.21,109.75 L417.63,108.06 L416.9,106.39 L416.04,104.76 L415.06,103.2 L413.98,101.73 L412.8,100.39 L411.57,99.19 L410.29,98.16 L408.99,97.31 L407.68,96.65 L406.4,96.21 L405.17,95.98 L404,95.97 L402.91,96.18 L401.93,96.61 L401.07,97.25 L400.34,98.08 L399.76,99.1 L399.35,100.28 L399.09,101.62 L399.01,103.07 L399.09,104.62 L399.35,106.25 L399.76,107.92 L400.34,109.6 L401.07,111.28 L401.93,112.91 L402.91,114.47 L404,115.93 L405.17,117.27 L406.4,118.47 L407.68,119.51 L408.99,120.36 L410.29,121.01 L411.57,121.46 L412.8,121.68 L413.98,121.69 L415.06,121.48 L416.04,121.06 L416.9,120.42 L417.63,119.58 L418.21,118.57 L418.63,117.38 L418.88,116.05 Z" fill="#fff" stroke="#4a4a4a" stroke-width="0.8" stroke-linejoin="round" />
<path d="M295.69,161.17 L295,161.68 L294.42,162.35 L293.95,163.17 L293.62,164.12 L293.41,165.18 L293.34,166.35 L293.41,167.6 L293.62,168.9 L293.95,170.24 L294.42,171.59 L295,172.94 L295.69,174.24 L296.48,175.5 L297.35,176.67 L298.29,177.75 L299.28,178.71 L300.31,179.54 L301.35,180.22 L302.4,180.75 L303.42,181.1 L304.42,181.29 L305.36,181.29 L306.23,181.12 L307.01,180.78 L414.94,118.47 L415.63,117.96 L416.21,117.29 L416.67,116.47 L417.01,115.52 L417.21,114.46 L417.28,113.29 L417.21,112.04 L417.01,110.74 L416.67,109.4 L416.21,108.05 L415.63,106.7 L414.94,105.4 L414.15,104.14 L413.28,102.97 L412.34,101.89 L411.35,100.93 L410.32,100.1 L409.28,99.42 L408.23,98.89 L407.2,98.54 L406.21,98.35 L405.27,98.35 L404.4,98.52 L403.61,98.86 Z" fill="#fff" stroke="#4a4a4a" stroke-width="0.92" stroke-linejoin="round" />
<path d="M309.36,175.6 L309.29,174.35 L309.09,173.05 L308.75,171.71 L308.29,170.36 L307.7,169.01 L307.01,167.71 L306.23,166.45 L305.36,165.28 L304.42,164.2 L303.42,163.24 L302.4,162.41 L301.35,161.73 L300.31,161.2 L299.28,160.85 L298.29,160.66 L297.35,160.66 L296.48,160.83 L295.69,161.17 L295,161.68 L294.42,162.35 L293.95,163.17 L293.62,164.12 L293.41,165.18 L293.34,166.35 L293.41,167.6 L293.62,168.9 L293.95,170.24 L294.42,171.59 L295,172.94 L295.69,174.24 L296.48,175.5 L297.35,176.67 L298.29,177.75 L299.28,178.71 L300.31,179.54 L301.35,180.22 L302.4,180.75 L303.42,181.1 L304.42,181.29 L305.36,181.29 L306.23,181.12 L307.01,180.78 L307.7,180.27 L308.29,179.6 L308.75,178.78 L309.09,177.83 L309.29,176.77 Z" fill="#fff" stroke="#4a4a4a" stroke-width="0.92" stroke-linejoin="round" />
<path d="M277.63,170.08 L276.86,170.65 L276.21,171.4 L275.69,172.31 L275.31,173.37 L275.09,174.56 L275.01,175.87 L275.09,177.26 L275.31,178.71 L275.69,180.21 L276.21,181.72 L276.86,183.21 L277.63,184.67 L278.5,186.07 L279.48,187.38 L280.52,188.58 L281.63,189.66 L282.78,190.58 L283.94,191.34 L285.11,191.93 L286.26,192.33 L287.36,192.53 L288.41,192.54 L289.38,192.35 L290.26,191.97 L307.67,181.92 L308.44,181.35 L309.09,180.6 L309.61,179.69 L309.98,178.63 L310.21,177.44 L310.29,176.13 L310.21,174.74 L309.98,173.29 L309.61,171.79 L309.09,170.28 L308.44,168.79 L307.67,167.33 L306.79,165.93 L305.82,164.62 L304.77,163.42 L303.66,162.34 L302.52,161.42 L301.35,160.66 L300.19,160.07 L299.04,159.67 L297.93,159.47 L296.88,159.46 L295.91,159.65 L295.03,160.03 Z" fill="#fff" stroke="#4a4a4a" stroke-width="1.03" stroke-linejoin="round" />
<path d="M292.88,186.18 L292.8,184.79 L292.58,183.34 L292.2,181.84 L291.68,180.33 L291.03,178.84 L290.26,177.38 L289.38,175.98 L288.41,174.67 L287.36,173.47 L286.26,172.39 L285.11,171.47 L283.94,170.71 L282.78,170.12 L281.63,169.72 L280.52,169.52 L279.48,169.51 L278.5,169.7 L277.63,170.08 L276.86,170.65 L276.21,171.4 L275.69,172.31 L275.31,173.37 L275.09,174.56 L275.01,175.87 L275.09,177.26 L275.31,178.71 L275.69,180.21 L276.21,181.72 L276.86,183.21 L277.63,184.67 L278.5,186.07 L279.48,187.38 L280.52,188.58 L281.63,189.66 L282.78,190.58 L283.94,191.34 L285.11,191.93 L286.26,192.33 L287.36,192.53 L288.41,192.54 L289.38,192.35 L290.26,191.97 L291.03,191.4 L291.68,190.65 L292.2,189.74 L292.58,188.68 L292.8,187.49 Z" fill="#fff" stroke="#4a4a4a" stroke-width="1.03" stroke-linejoin="round" />
<path d="M293.34,185.64 L309.41,176.36 L308.95,173.1 L292.88,182.38 Z" fill="#b4b4b4" stroke="#5e5e5e" stroke-width="0.52" stroke-linejoin="round" />
<line x1="293.61" y1="183.81" x2="308.99" y2="174.93" stroke="#8e8e8e" stroke-width="0.46" />
<path d="M290.56,176.82 L306.63,167.54 L304.47,164.55 L288.4,173.83 Z" fill="#b4b4b4" stroke="#5e5e5e" stroke-width="0.52" stroke-linejoin="round" />
<line x1="289.94" y1="175.03" x2="305.32" y2="166.15" stroke="#8e8e8e" stroke-width="0.46" />
<path d="M284.17,170.31 L300.25,161.03 L297.65,160.06 L281.57,169.34 Z" fill="#b4b4b4" stroke="#5e5e5e" stroke-width="0.52" stroke-linejoin="round" />
<line x1="283.26" y1="169.47" x2="298.64" y2="160.59" stroke="#8e8e8e" stroke-width="0.46" />
<path d="M277.93,169.91 L294,160.63 L292.48,162.26 L276.41,171.54 Z" fill="#b4b4b4" stroke="#5e5e5e" stroke-width="0.52" stroke-linejoin="round" />
<line x1="277.49" y1="170.38" x2="292.87" y2="161.5" stroke="#8e8e8e" stroke-width="0.46" />
<path d="M290.89,191.6 L306.96,182.32 L308.48,180.7 L292.41,189.98 Z" fill="#b4b4b4" stroke="#5e5e5e" stroke-width="0.52" stroke-linejoin="round" />
<line x1="292.13" y1="190.67" x2="307.51" y2="181.79" stroke="#8e8e8e" stroke-width="0.46" />
<path d="M292.88,186.18 L292.8,184.79 L292.58,183.34 L292.2,181.84 L291.68,180.33 L291.03,178.84 L290.26,177.38 L289.38,175.98 L288.41,174.67 L287.36,173.47 L286.26,172.39 L285.11,171.47 L283.94,170.71 L282.78,170.12 L281.63,169.72 L280.52,169.52 L279.48,169.51 L278.5,169.7 L277.63,170.08 L276.86,170.65 L276.21,171.4 L275.69,172.31 L275.31,173.37 L275.09,174.56 L275.01,175.87 L275.09,177.26 L275.31,178.71 L275.69,180.21 L276.21,181.72 L276.86,183.21 L277.63,184.67 L278.5,186.07 L279.48,187.38 L280.52,188.58 L281.63,189.66 L282.78,190.58 L283.94,191.34 L285.11,191.93 L286.26,192.33 L287.36,192.53 L288.41,192.54 L289.38,192.35 L290.26,191.97 L291.03,191.4 L291.68,190.65 L292.2,189.74 L292.58,188.68 L292.8,187.49 Z" fill="#fff" stroke="#4a4a4a" stroke-width="1.03" stroke-linejoin="round" />
<path d="M291.6,185.45 L291.54,184.25 L291.34,183.01 L291.02,181.73 L290.58,180.43 L290.02,179.15 L289.36,177.9 L288.61,176.7 L287.77,175.58 L286.88,174.55 L285.93,173.63 L284.94,172.83 L283.94,172.18 L282.94,171.68 L281.96,171.34 L281.01,171.16 L280.11,171.15 L279.28,171.32 L278.53,171.64 L277.87,172.13 L277.31,172.77 L276.87,173.56 L276.55,174.46 L276.35,175.49 L276.29,176.6 L276.35,177.8 L276.55,179.04 L276.87,180.32 L277.31,181.62 L277.87,182.9 L278.53,184.15 L279.28,185.35 L280.11,186.47 L281.01,187.5 L281.96,188.42 L282.94,189.22 L283.94,189.87 L284.94,190.37 L285.93,190.71 L286.88,190.89 L287.77,190.9 L288.61,190.73 L289.36,190.41 L290.02,189.92 L290.58,189.28 L291.02,188.49 L291.34,187.59 L291.54,186.56 Z" fill="none" stroke="#8e8e8e" stroke-width="0.57" stroke-linejoin="round" />
<path d="M285.45,181.9 L285.44,181.66 L285.4,181.42 L285.34,181.16 L285.25,180.91 L285.14,180.66 L285.01,180.41 L284.86,180.17 L284.7,179.95 L284.52,179.75 L284.33,179.57 L284.14,179.41 L283.94,179.28 L283.75,179.18 L283.55,179.12 L283.37,179.08 L283.19,179.08 L283.03,179.11 L282.88,179.18 L282.75,179.27 L282.64,179.4 L282.55,179.55 L282.49,179.73 L282.45,179.93 L282.44,180.15 L282.45,180.39 L282.49,180.63 L282.55,180.89 L282.64,181.14 L282.75,181.39 L282.88,181.64 L283.03,181.88 L283.19,182.1 L283.37,182.3 L283.55,182.48 L283.75,182.64 L283.94,182.77 L284.14,182.87 L284.33,182.93 L284.52,182.97 L284.7,182.97 L284.86,182.94 L285.01,182.87 L285.14,182.78 L285.25,182.65 L285.34,182.5 L285.4,182.32 L285.44,182.12 Z" fill="#bbb" stroke="#4a4a4a" stroke-width="0.69" stroke-linejoin="round" />
<path d="M372.54,69.82 L372.27,70.02 L372.04,70.28 L371.86,70.6 L371.72,70.97 L371.64,71.39 L371.62,71.85 L371.64,72.34 L371.72,72.85 L371.86,73.37 L372.04,73.9 L372.27,74.42 L372.54,74.94 L372.84,75.43 L373.18,75.89 L373.55,76.31 L373.94,76.68 L374.34,77.01 L374.75,77.28 L375.16,77.48 L375.56,77.62 L375.95,77.69 L376.32,77.7 L376.66,77.63 L376.97,77.49 L392.92,68.28 L393.19,68.08 L393.42,67.82 L393.6,67.5 L393.73,67.13 L393.81,66.71 L393.84,66.25 L393.81,65.77 L393.73,65.26 L393.6,64.73 L393.42,64.2 L393.19,63.68 L392.92,63.17 L392.62,62.68 L392.27,62.22 L391.91,61.79 L391.52,61.42 L391.12,61.09 L390.71,60.83 L390.3,60.62 L389.9,60.48 L389.51,60.41 L389.14,60.41 L388.8,60.47 L388.49,60.61 Z" fill="#626262" stroke="#4a4a4a" stroke-width="0.63" stroke-linejoin="round" />
<path d="M377.88,75.47 L377.86,74.98 L377.78,74.47 L377.65,73.94 L377.46,73.42 L377.24,72.89 L376.97,72.38 L376.66,71.89 L376.32,71.43 L375.95,71.01 L375.56,70.63 L375.16,70.31 L374.75,70.04 L374.34,69.83 L373.94,69.69 L373.55,69.62 L373.18,69.62 L372.84,69.69 L372.54,69.82 L372.27,70.02 L372.04,70.28 L371.86,70.6 L371.72,70.97 L371.64,71.39 L371.62,71.85 L371.64,72.34 L371.72,72.85 L371.86,73.37 L372.04,73.9 L372.27,74.42 L372.54,74.94 L372.84,75.43 L373.18,75.89 L373.55,76.31 L373.94,76.68 L374.34,77.01 L374.75,77.28 L375.16,77.48 L375.56,77.62 L375.95,77.69 L376.32,77.7 L376.66,77.63 L376.97,77.49 L377.24,77.3 L377.46,77.03 L377.65,76.71 L377.78,76.34 L377.86,75.92 Z" fill="#fff" stroke="#4a4a4a" stroke-width="0.63" stroke-linejoin="round" />
<path d="M377.07,75 L377.05,74.64 L376.99,74.26 L376.9,73.87 L376.76,73.48 L376.59,73.09 L376.39,72.71 L376.16,72.35 L375.91,72.01 L375.64,71.69 L375.35,71.42 L375.05,71.18 L374.75,70.98 L374.45,70.83 L374.15,70.72 L373.86,70.67 L373.59,70.67 L373.34,70.72 L373.11,70.81 L372.91,70.96 L372.74,71.16 L372.61,71.39 L372.51,71.67 L372.45,71.98 L372.43,72.32 L372.45,72.68 L372.51,73.06 L372.61,73.45 L372.74,73.84 L372.91,74.23 L373.11,74.61 L373.34,74.97 L373.59,75.31 L373.86,75.62 L374.15,75.9 L374.45,76.14 L374.75,76.34 L375.05,76.49 L375.35,76.59 L375.64,76.65 L375.91,76.65 L376.16,76.6 L376.39,76.5 L376.59,76.35 L376.76,76.16 L376.9,75.92 L376.99,75.65 L377.05,75.34 Z" fill="#fff" stroke="#7e7e7e" stroke-width="0.46" stroke-linejoin="round" />
<path d="M388.21,60.11 L387.9,60.34 L387.64,60.63 L387.44,60.99 L387.29,61.41 L387.2,61.89 L387.17,62.4 L387.2,62.95 L387.29,63.53 L387.44,64.12 L387.64,64.72 L387.9,65.31 L388.21,65.89 L388.55,66.44 L388.94,66.96 L389.35,67.44 L389.79,67.86 L390.25,68.23 L390.71,68.53 L391.17,68.76 L391.62,68.92 L392.06,69 L392.48,69.01 L392.86,68.93 L393.21,68.78 L399.01,65.43 L399.32,65.2 L399.58,64.91 L399.78,64.55 L399.93,64.13 L400.02,63.65 L400.05,63.14 L400.02,62.59 L399.93,62.01 L399.78,61.42 L399.58,60.82 L399.32,60.23 L399.01,59.65 L398.66,59.1 L398.28,58.58 L397.86,58.1 L397.43,57.68 L396.97,57.31 L396.51,57.01 L396.05,56.78 L395.59,56.62 L395.16,56.54 L394.74,56.53 L394.36,56.61 L394.01,56.76 Z" fill="#fff" stroke="#4a4a4a" stroke-width="0.8" stroke-linejoin="round" />
<path d="M394.25,66.49 L394.22,65.94 L394.13,65.36 L393.98,64.77 L393.77,64.17 L393.52,63.58 L393.21,63 L392.86,62.45 L392.48,61.93 L392.06,61.45 L391.62,61.03 L391.17,60.66 L390.71,60.36 L390.25,60.13 L389.79,59.97 L389.35,59.89 L388.94,59.88 L388.55,59.96 L388.21,60.11 L387.9,60.34 L387.64,60.63 L387.44,60.99 L387.29,61.41 L387.2,61.89 L387.17,62.4 L387.2,62.95 L387.29,63.53 L387.44,64.12 L387.64,64.72 L387.9,65.31 L388.21,65.89 L388.55,66.44 L388.94,66.96 L389.35,67.44 L389.79,67.86 L390.25,68.23 L390.71,68.53 L391.17,68.76 L391.62,68.92 L392.06,69 L392.48,69.01 L392.86,68.93 L393.21,68.78 L393.52,68.55 L393.77,68.26 L393.98,67.9 L394.13,67.48 L394.22,67 Z" fill="#fff" stroke="#4a4a4a" stroke-width="0.8" stroke-linejoin="round" />
<path d="M420.12,152.23 L419.85,152.43 L419.62,152.69 L419.44,153.01 L419.3,153.38 L419.22,153.8 L419.2,154.26 L419.22,154.75 L419.3,155.26 L419.44,155.78 L419.62,156.31 L419.85,156.83 L420.12,157.35 L420.42,157.84 L420.76,158.3 L421.13,158.72 L421.52,159.09 L421.92,159.42 L422.33,159.69 L422.74,159.89 L423.14,160.03 L423.53,160.1 L423.9,160.11 L424.24,160.04 L424.55,159.9 L440.5,150.69 L440.77,150.49 L441,150.23 L441.18,149.91 L441.31,149.54 L441.39,149.12 L441.42,148.66 L441.39,148.18 L441.31,147.67 L441.18,147.14 L441,146.61 L440.77,146.09 L440.5,145.58 L440.19,145.09 L439.85,144.63 L439.49,144.2 L439.1,143.83 L438.7,143.5 L438.29,143.24 L437.88,143.03 L437.48,142.89 L437.09,142.82 L436.72,142.82 L436.38,142.88 L436.07,143.02 Z" fill="#626262" stroke="#4a4a4a" stroke-width="0.63" stroke-linejoin="round" />
<path d="M425.46,157.88 L425.44,157.39 L425.36,156.88 L425.23,156.35 L425.04,155.83 L424.82,155.3 L424.55,154.79 L424.24,154.3 L423.9,153.84 L423.53,153.42 L423.14,153.04 L422.74,152.72 L422.33,152.45 L421.92,152.24 L421.52,152.1 L421.13,152.03 L420.76,152.03 L420.42,152.1 L420.12,152.23 L419.85,152.43 L419.62,152.69 L419.44,153.01 L419.3,153.38 L419.22,153.8 L419.2,154.26 L419.22,154.75 L419.3,155.26 L419.44,155.78 L419.62,156.31 L419.85,156.83 L420.12,157.35 L420.42,157.84 L420.76,158.3 L421.13,158.72 L421.52,159.09 L421.92,159.42 L422.33,159.69 L422.74,159.89 L423.14,160.03 L423.53,160.1 L423.9,160.11 L424.24,160.04 L424.55,159.9 L424.82,159.71 L425.04,159.44 L425.23,159.12 L425.36,158.75 L425.44,158.33 Z" fill="#fff" stroke="#4a4a4a" stroke-width="0.63" stroke-linejoin="round" />
<path d="M424.65,157.41 L424.63,157.05 L424.57,156.67 L424.48,156.28 L424.34,155.89 L424.17,155.5 L423.97,155.12 L423.74,154.76 L423.49,154.42 L423.22,154.1 L422.93,153.83 L422.63,153.59 L422.33,153.39 L422.03,153.24 L421.73,153.13 L421.44,153.08 L421.17,153.08 L420.92,153.13 L420.69,153.22 L420.49,153.37 L420.32,153.57 L420.19,153.8 L420.09,154.08 L420.03,154.39 L420.01,154.73 L420.03,155.09 L420.09,155.47 L420.19,155.86 L420.32,156.25 L420.49,156.64 L420.69,157.02 L420.92,157.38 L421.17,157.72 L421.44,158.03 L421.73,158.31 L422.03,158.55 L422.33,158.75 L422.63,158.9 L422.93,159 L423.22,159.06 L423.49,159.06 L423.74,159.01 L423.97,158.91 L424.17,158.76 L424.34,158.57 L424.48,158.33 L424.57,158.06 L424.63,157.75 Z" fill="#fff" stroke="#7e7e7e" stroke-width="0.46" stroke-linejoin="round" />
<path d="M435.78,142.52 L435.48,142.75 L435.22,143.04 L435.02,143.4 L434.87,143.82 L434.78,144.3 L434.75,144.81 L434.78,145.36 L434.87,145.94 L435.02,146.53 L435.22,147.13 L435.48,147.72 L435.78,148.3 L436.13,148.85 L436.52,149.37 L436.93,149.85 L437.37,150.27 L437.83,150.64 L438.29,150.94 L438.75,151.17 L439.2,151.33 L439.64,151.41 L440.06,151.42 L440.44,151.34 L440.79,151.19 L446.59,147.84 L446.9,147.61 L447.15,147.32 L447.36,146.96 L447.51,146.54 L447.6,146.06 L447.63,145.55 L447.6,145 L447.51,144.42 L447.36,143.83 L447.15,143.23 L446.9,142.64 L446.59,142.06 L446.24,141.51 L445.86,140.99 L445.44,140.51 L445.01,140.09 L444.55,139.72 L444.09,139.42 L443.63,139.19 L443.17,139.03 L442.74,138.95 L442.32,138.94 L441.94,139.02 L441.59,139.17 Z" fill="#fff" stroke="#4a4a4a" stroke-width="0.8" stroke-linejoin="round" />
<path d="M441.83,148.9 L441.8,148.35 L441.71,147.77 L441.56,147.18 L441.35,146.58 L441.1,145.99 L440.79,145.41 L440.44,144.86 L440.06,144.34 L439.64,143.86 L439.2,143.44 L438.75,143.07 L438.29,142.77 L437.83,142.54 L437.37,142.38 L436.93,142.3 L436.52,142.29 L436.13,142.37 L435.78,142.52 L435.48,142.75 L435.22,143.04 L435.02,143.4 L434.87,143.82 L434.78,144.3 L434.75,144.81 L434.78,145.36 L434.87,145.94 L435.02,146.53 L435.22,147.13 L435.48,147.72 L435.78,148.3 L436.13,148.85 L436.52,149.37 L436.93,149.85 L437.37,150.27 L437.83,150.64 L438.29,150.94 L438.75,151.17 L439.2,151.33 L439.64,151.41 L440.06,151.42 L440.44,151.34 L440.79,151.19 L441.1,150.96 L441.35,150.67 L441.56,150.31 L441.71,149.89 L441.8,149.41 Z" fill="#fff" stroke="#4a4a4a" stroke-width="0.8" stroke-linejoin="round" />
<path d="M420.12,97.29 L419.85,97.49 L419.62,97.75 L419.44,98.07 L419.3,98.44 L419.22,98.86 L419.2,99.32 L419.22,99.81 L419.3,100.32 L419.44,100.84 L419.62,101.37 L419.85,101.89 L420.12,102.41 L420.42,102.9 L420.76,103.36 L421.13,103.78 L421.52,104.15 L421.92,104.48 L422.33,104.75 L422.74,104.95 L423.14,105.09 L423.53,105.16 L423.9,105.17 L424.24,105.1 L424.55,104.96 L440.5,95.75 L440.77,95.55 L441,95.29 L441.18,94.97 L441.31,94.6 L441.39,94.18 L441.42,93.72 L441.39,93.24 L441.31,92.73 L441.18,92.2 L441,91.67 L440.77,91.15 L440.5,90.64 L440.19,90.15 L439.85,89.69 L439.49,89.26 L439.1,88.89 L438.7,88.56 L438.29,88.3 L437.88,88.09 L437.48,87.95 L437.09,87.88 L436.72,87.88 L436.38,87.94 L436.07,88.08 Z" fill="#626262" stroke="#4a4a4a" stroke-width="0.63" stroke-linejoin="round" />
<path d="M425.46,102.94 L425.44,102.45 L425.36,101.94 L425.23,101.41 L425.04,100.89 L424.82,100.36 L424.55,99.85 L424.24,99.36 L423.9,98.9 L423.53,98.48 L423.14,98.1 L422.74,97.78 L422.33,97.51 L421.92,97.3 L421.52,97.16 L421.13,97.09 L420.76,97.09 L420.42,97.16 L420.12,97.29 L419.85,97.49 L419.62,97.75 L419.44,98.07 L419.3,98.44 L419.22,98.86 L419.2,99.32 L419.22,99.81 L419.3,100.32 L419.44,100.84 L419.62,101.37 L419.85,101.89 L420.12,102.41 L420.42,102.9 L420.76,103.36 L421.13,103.78 L421.52,104.15 L421.92,104.48 L422.33,104.75 L422.74,104.95 L423.14,105.09 L423.53,105.16 L423.9,105.17 L424.24,105.1 L424.55,104.96 L424.82,104.77 L425.04,104.5 L425.23,104.18 L425.36,103.81 L425.44,103.39 Z" fill="#fff" stroke="#4a4a4a" stroke-width="0.63" stroke-linejoin="round" />
<path d="M424.65,102.47 L424.63,102.11 L424.57,101.73 L424.48,101.34 L424.34,100.95 L424.17,100.56 L423.97,100.18 L423.74,99.82 L423.49,99.48 L423.22,99.16 L422.93,98.89 L422.63,98.65 L422.33,98.45 L422.03,98.3 L421.73,98.19 L421.44,98.14 L421.17,98.14 L420.92,98.19 L420.69,98.28 L420.49,98.43 L420.32,98.63 L420.19,98.86 L420.09,99.14 L420.03,99.45 L420.01,99.79 L420.03,100.15 L420.09,100.53 L420.19,100.92 L420.32,101.31 L420.49,101.7 L420.69,102.08 L420.92,102.44 L421.17,102.78 L421.44,103.09 L421.73,103.37 L422.03,103.61 L422.33,103.81 L422.63,103.96 L422.93,104.06 L423.22,104.12 L423.49,104.12 L423.74,104.07 L423.97,103.97 L424.17,103.82 L424.34,103.63 L424.48,103.39 L424.57,103.12 L424.63,102.81 Z" fill="#fff" stroke="#7e7e7e" stroke-width="0.46" stroke-linejoin="round" />
<path d="M435.78,87.58 L435.48,87.81 L435.22,88.1 L435.02,88.46 L434.87,88.88 L434.78,89.36 L434.75,89.87 L434.78,90.42 L434.87,91 L435.02,91.59 L435.22,92.19 L435.48,92.78 L435.78,93.36 L436.13,93.91 L436.52,94.43 L436.93,94.91 L437.37,95.33 L437.83,95.7 L438.29,96 L438.75,96.23 L439.2,96.39 L439.64,96.47 L440.06,96.48 L440.44,96.4 L440.79,96.25 L446.59,92.9 L446.9,92.67 L447.15,92.38 L447.36,92.02 L447.51,91.6 L447.6,91.12 L447.63,90.61 L447.6,90.06 L447.51,89.48 L447.36,88.89 L447.15,88.29 L446.9,87.7 L446.59,87.12 L446.24,86.57 L445.86,86.05 L445.44,85.57 L445.01,85.15 L444.55,84.78 L444.09,84.48 L443.63,84.25 L443.17,84.09 L442.74,84.01 L442.32,84 L441.94,84.08 L441.59,84.23 Z" fill="#fff" stroke="#4a4a4a" stroke-width="0.8" stroke-linejoin="round" />
<path d="M441.83,93.96 L441.8,93.41 L441.71,92.83 L441.56,92.24 L441.35,91.64 L441.1,91.05 L440.79,90.47 L440.44,89.92 L440.06,89.4 L439.64,88.92 L439.2,88.5 L438.75,88.13 L438.29,87.83 L437.83,87.6 L437.37,87.44 L436.93,87.36 L436.52,87.35 L436.13,87.43 L435.78,87.58 L435.48,87.81 L435.22,88.1 L435.02,88.46 L434.87,88.88 L434.78,89.36 L434.75,89.87 L434.78,90.42 L434.87,91 L435.02,91.59 L435.22,92.19 L435.48,92.78 L435.78,93.36 L436.13,93.91 L436.52,94.43 L436.93,94.91 L437.37,95.33 L437.83,95.7 L438.29,96 L438.75,96.23 L439.2,96.39 L439.64,96.47 L440.06,96.48 L440.44,96.4 L440.79,96.25 L441.1,96.02 L441.35,95.73 L441.56,95.37 L441.71,94.95 L441.8,94.47 Z" fill="#fff" stroke="#4a4a4a" stroke-width="0.8" stroke-linejoin="round" />
</g>
<g filter="url(#soft2)">
<path d="M257,271.2 L259.1,281.2 L254.9,281.2 Z" fill="#222" stroke="#222" stroke-width="0.3"/>
<path d="M257,353.2 L254.9,343.2 L259.1,343.2 Z" fill="#222" stroke="#222" stroke-width="0.3"/>
<text x="254.3" y="311.7" font-size="11.6" text-anchor="middle" fill="#2b2b2b" stroke="#2b2b2b" stroke-width="0.28" transform="rotate(-90 254.3 311.7)">80</text>
<path d="M143.9,388.6 L153.9,386.5 L153.9,390.7 Z" fill="#222" stroke="#222" stroke-width="0.3"/>
<path d="M225.9,388.6 L215.9,390.7 L215.9,386.5 Z" fill="#222" stroke="#222" stroke-width="0.3"/>
<text x="186.4" y="386.2" font-size="11.6" text-anchor="middle" fill="#2b2b2b" stroke="#2b2b2b" stroke-width="0.28">80</text>
<text x="213.8" y="229.5" font-size="11.6" text-anchor="start" fill="#2b2b2b" stroke="#2b2b2b" stroke-width="0.28">DIN 5462 - 8x32x36</text>
<path d="M186,295 L187.74,285.4 L191.78,287.15 Z" fill="#222" stroke="#222" stroke-width="0.3"/>
<path d="M280.3,413 L290.3,410.9 L290.3,415.1 Z" fill="#222" stroke="#222" stroke-width="0.3"/>
<path d="M515.4,413 L505.4,415.1 L505.4,410.9 Z" fill="#222" stroke="#222" stroke-width="0.3"/>
<path d="M552,413 L562,410.9 L562,415.1 Z" fill="#222" stroke="#222" stroke-width="0.3"/>
<path d="M619.6,413 L609.6,415.1 L609.6,410.9 Z" fill="#222" stroke="#222" stroke-width="0.3"/>
<path d="M280.3,438 L290.3,435.9 L290.3,440.1 Z" fill="#222" stroke="#222" stroke-width="0.3"/>
<path d="M619.6,438 L609.6,440.1 L609.6,435.9 Z" fill="#222" stroke="#222" stroke-width="0.3"/>
<text x="404.5" y="411" font-size="11.6" text-anchor="middle" fill="#2b2b2b" stroke="#2b2b2b" stroke-width="0.28">229</text>
<text x="534.3" y="411" font-size="11.6" text-anchor="middle" fill="#2b2b2b" stroke="#2b2b2b" stroke-width="0.28">36</text>
<text x="582" y="411" font-size="11.6" text-anchor="middle" fill="#2b2b2b" stroke="#2b2b2b" stroke-width="0.28">65</text>
<text x="463" y="436" font-size="11.6" text-anchor="middle" fill="#2b2b2b" stroke="#2b2b2b" stroke-width="0.28">330</text>
<text x="435.8" y="229.5" font-size="11.6" text-anchor="start" fill="#2b2b2b" stroke="#2b2b2b" stroke-width="0.28">AIR INLET R1/4&quot;</text>
<path d="M580,272.7 L571.24,267.39 L574.28,264.21 Z" fill="#222" stroke="#222" stroke-width="0.3"/>
</g>
</svg>
</body></html>
